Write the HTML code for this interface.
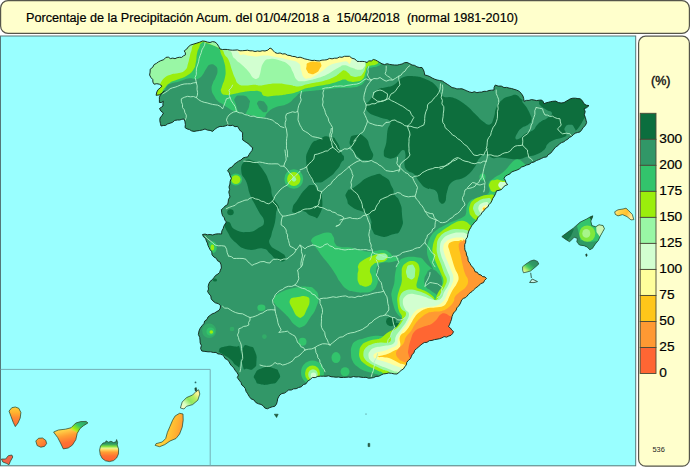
<!DOCTYPE html>
<html><head><meta charset="utf-8"><title>Porcentaje de la Precipitación Acum.</title>
<style>
html,body{margin:0;padding:0;background:#fff;}
body{width:690px;height:467px;overflow:hidden;position:relative;font-family:"Liberation Sans",sans-serif;color:#111;}
svg{position:absolute;left:0;top:0;display:block;}
#title{position:absolute;left:26px;top:10.5px;font-size:12.65px;line-height:14px;white-space:pre;letter-spacing:0px;color:#000;-webkit-text-stroke:0.2px #000;}
.lb{position:absolute;left:659.3px;font-size:13.7px;line-height:14px;color:#000;-webkit-text-stroke:0.2px #000;}
#pct{position:absolute;left:651px;top:74px;font-size:12.5px;line-height:14px;-webkit-text-stroke:0.4px #111;}
#n536{position:absolute;left:652.5px;top:445px;font-size:7.4px;line-height:9px;color:#222;}
</style></head><body>
<svg width="690" height="467" viewBox="0 0 690 467">
<defs>
<filter id="soft" x="-2%" y="-2%" width="104%" height="104%"><feGaussianBlur stdDeviation="0.45"/></filter>
<clipPath id="cpS"><path id="spain" d="M161.0,126.0 L160.4,123.4 L159.8,120.7 L160.0,118.0 L161.9,115.6 L163.5,113.0 L161.0,111.2 L159.5,108.5 L161.3,107.3 L163.0,106.0 L162.9,103.6 L163.3,101.2 L161.6,102.5 L159.4,102.5 L159.4,99.8 L159.4,97.2 L160.6,94.6 L162.8,92.8 L164.6,90.7 L162.0,93.3 L159.3,94.9 L156.1,95.3 L156.8,92.0 L158.1,89.6 L160.2,88.0 L162.0,86.1 L159.4,84.2 L156.8,83.7 L154.1,84.2 L152.9,82.1 L152.8,79.6 L150.9,77.5 L149.6,75.0 L150.1,72.1 L150.2,69.2 L152.7,67.3 L154.1,64.6 L156.4,63.4 L158.4,61.9 L160.7,60.7 L163.7,59.7 L165.9,57.4 L168.3,57.1 L170.4,58.6 L172.8,58.1 L175.0,58.7 L177.1,57.7 L179.3,57.3 L181.6,57.4 L183.4,55.9 L185.5,54.8 L185.3,52.7 L184.2,50.9 L186.8,49.0 L188.4,46.7 L190.7,45.0 L194.0,44.0 L196.9,43.1 L199.7,42.2 L202.5,41.0 L205.0,41.3 L207.5,42.1 L210.0,42.5 L212.4,41.6 L215.0,42.0 L217.2,43.9 L218.7,46.4 L220.0,49.0 L222.5,49.5 L225.0,49.4 L227.5,49.5 L230.0,50.0 L232.5,50.2 L235.0,50.1 L237.5,49.9 L240.0,50.8 L242.5,50.7 L245.0,50.5 L247.5,50.2 L250.0,50.8 L252.5,50.8 L255.0,51.5 L257.5,51.0 L260.0,51.3 L262.5,50.7 L265.0,51.0 L267.9,50.1 L270.0,48.0 L272.0,49.1 L273.4,50.9 L275.0,52.5 L277.4,53.4 L280.1,53.0 L282.5,54.0 L285.1,53.8 L287.5,55.2 L290.0,55.5 L292.4,56.4 L295.0,56.6 L297.4,57.6 L300.1,57.2 L302.5,58.0 L304.8,58.9 L307.2,59.4 L309.6,60.0 L312.0,60.5 L314.5,60.3 L317.0,60.8 L319.5,60.9 L322.0,60.1 L324.5,60.0 L327.0,59.7 L329.4,58.4 L332.1,58.8 L334.5,58.2 L337.1,58.2 L339.5,57.0 L342.0,57.3 L344.5,56.3 L347.0,56.3 L349.5,56.3 L351.9,58.2 L354.9,59.0 L357.0,61.3 L359.5,61.5 L362.1,61.4 L364.6,61.6 L367.0,62.5 L368.8,60.9 L371.4,60.9 L373.3,59.5 L375.7,60.1 L377.8,61.3 L379.9,62.6 L382.0,63.8 L384.5,64.6 L387.1,63.7 L389.6,64.4 L392.1,64.8 L394.6,65.0 L397.2,65.1 L399.7,64.5 L402.1,64.0 L404.5,62.7 L407.0,62.5 L409.6,63.6 L412.0,65.0 L414.6,65.4 L416.9,66.8 L419.3,67.5 L422.0,67.5 L423.4,69.8 L424.3,72.3 L424.7,75.0 L427.3,75.6 L429.8,76.6 L432.1,78.0 L434.5,79.1 L437.0,80.0 L439.7,80.5 L442.4,81.0 L444.7,82.6 L447.2,84.2 L449.7,85.8 L452.0,87.6 L454.5,88.0 L456.9,88.9 L459.5,88.8 L462.0,88.8 L464.5,89.8 L466.9,90.9 L469.4,91.9 L472.0,92.6 L474.3,91.7 L476.9,92.7 L479.2,92.2 L481.7,92.1 L484.0,91.3 L486.6,91.4 L489.0,90.5 L491.5,90.2 L494.0,90.0 L494.1,87.4 L495.3,85.0 L498.1,86.1 L501.3,86.1 L504.0,87.6 L506.6,87.4 L509.1,88.1 L511.6,88.5 L514.0,89.3 L516.5,90.0 L519.4,91.4 L521.5,93.8 L523.0,96.1 L523.7,98.6 L524.0,101.3 L526.4,100.4 L529.0,100.4 L531.4,99.6 L534.0,100.0 L536.5,100.6 L539.1,100.2 L541.6,100.0 L543.2,101.6 L544.0,103.8 L546.1,102.8 L548.3,102.3 L550.5,101.7 L552.8,101.3 L555.7,101.1 L558.3,102.5 L561.1,103.0 L564.0,102.6 L566.1,101.3 L568.3,100.0 L570.4,98.8 L572.9,98.2 L575.4,98.2 L577.9,98.6 L580.4,98.8 L582.5,101.1 L584.0,103.8 L586.3,105.2 L589.0,105.6 L586.8,107.6 L584.0,108.8 L585.2,111.6 L584.3,114.8 L585.4,117.6 L586.0,120.1 L586.6,122.6 L585.4,125.4 L583.2,127.5 L581.6,130.0 L580.0,131.9 L577.6,132.5 L575.2,133.2 L573.3,134.7 L571.6,136.4 L569.4,137.4 L567.8,139.2 L565.7,140.3 L563.9,141.8 L561.6,142.6 L559.4,143.9 L557.8,145.8 L555.6,147.1 L554.0,149.0 L552.3,151.2 L550.6,153.3 L548.1,154.7 L546.6,157.0 L543.8,157.3 L541.4,158.5 L538.9,159.6 L536.3,160.6 L534.0,162.0 L531.4,162.7 L529.2,164.4 L526.6,165.0 L524.2,166.2 L521.6,167.0 L519.4,168.9 L516.9,170.1 L514.2,171.0 L511.5,172.0 L509.9,173.9 L507.6,174.9 L505.4,176.2 L504.0,178.3 L505.3,180.3 L506.0,182.8 L507.8,184.5 L505.2,185.6 L503.2,187.3 L501.5,189.5 L499.1,190.3 L496.5,190.8 L495.6,193.5 L494.4,196.0 L492.8,198.3 L491.9,200.7 L490.7,202.9 L488.9,204.7 L487.8,207.0 L485.5,208.5 L484.0,210.8 L482.1,212.3 L480.9,214.6 L479.2,216.3 L477.5,218.0 L476.7,220.5 L474.7,222.0 L473.3,223.9 L471.7,225.7 L470.6,227.8 L469.4,229.8 L468.5,232.0 L467.8,234.5 L467.4,237.2 L465.8,239.4 L465.7,242.2 L464.7,244.6 L464.7,247.3 L464.9,249.9 L466.2,252.4 L466.5,255.0 L467.8,257.7 L468.2,260.9 L470.0,263.4 L471.0,265.6 L472.9,267.3 L474.2,269.3 L475.0,271.7 L477.3,272.3 L478.7,274.4 L481.0,275.0 L482.6,276.6 L485.0,276.9 L486.5,278.5 L484.6,280.3 L483.5,282.6 L480.6,283.7 L478.5,286.0 L475.9,287.8 L473.5,290.0 L472.0,291.6 L470.1,292.8 L468.5,294.3 L467.1,296.1 L465.6,297.6 L463.4,298.4 L461.7,299.9 L460.9,302.0 L460.0,304.0 L458.6,306.1 L456.8,307.9 L456.1,310.4 L454.2,312.1 L452.9,314.2 L452.0,316.6 L451.5,319.2 L450.6,321.7 L449.7,324.2 L448.5,326.6 L450.4,328.0 L451.7,330.0 L453.5,331.6 L452.5,333.7 L451.0,335.3 L448.8,336.0 L446.6,337.1 L444.1,336.6 L442.0,337.8 L439.6,338.7 L437.0,339.2 L434.5,339.6 L432.0,340.4 L429.3,340.7 L427.0,342.3 L424.3,342.5 L422.0,344.0 L420.1,345.6 L418.3,347.2 L416.4,348.8 L414.6,350.4 L414.0,352.8 L412.2,354.4 L411.3,356.7 L410.3,358.8 L408.4,360.4 L406.8,362.3 L406.3,364.9 L404.7,366.9 L403.4,369.0 L401.1,370.4 L399.1,372.3 L397.0,374.0 L394.2,373.9 L391.5,373.3 L388.7,373.0 L386.1,373.6 L383.5,373.9 L381.0,375.0 L378.7,376.3 L376.0,376.4 L373.6,377.6 L371.0,378.0 L368.5,378.2 L366.0,377.3 L363.5,377.5 L361.0,377.2 L358.5,376.8 L356.0,377.0 L353.5,376.5 L351.0,377.3 L348.5,377.1 L346.0,377.3 L343.5,377.4 L341.0,377.5 L338.5,377.0 L336.0,377.2 L333.5,376.9 L331.0,376.7 L328.6,375.8 L326.0,376.3 L323.3,376.2 L320.5,376.2 L317.8,376.4 L315.2,377.6 L312.4,377.5 L310.2,379.5 L307.7,381.2 L306.0,383.8 L303.3,384.6 L301.3,386.8 L298.6,387.5 L296.2,388.7 L293.6,388.8 L291.3,390.0 L288.6,390.0 L286.6,391.6 L284.5,393.1 L281.9,393.5 L279.8,395.0 L278.6,396.9 L277.6,399.0 L277.3,401.3 L276.5,404.0 L274.8,406.3 L272.2,406.8 L269.7,407.7 L267.3,408.8 L264.8,408.0 L263.2,405.8 L261.0,404.4 L258.5,403.8 L255.8,402.5 L253.9,399.9 L251.0,398.8 L249.2,396.4 L247.7,393.8 L246.0,391.3 L245.4,388.7 L243.9,386.7 L241.8,385.0 L241.0,382.5 L239.1,380.1 L237.3,377.5 L238.5,375.0 L236.9,372.5 L235.0,370.1 L233.5,367.5 L231.5,365.8 L230.0,363.7 L228.9,361.3 L227.0,359.5 L225.0,358.5 L224.0,356.4 L222.4,354.9 L220.2,354.1 L217.9,353.9 L216.0,352.4 L213.3,352.5 L210.7,351.8 L208.0,351.8 L204.9,351.4 L201.8,351.0 L200.6,348.5 L201.4,345.5 L200.2,343.0 L200.0,340.1 L199.7,337.3 L198.4,334.6 L199.0,331.0 L200.2,328.2 L202.0,325.8 L204.0,323.5 L204.7,321.0 L207.0,319.4 L208.0,317.0 L210.0,315.4 L212.1,313.9 L214.6,313.0 L216.7,311.6 L219.0,310.4 L220.3,308.1 L220.5,305.5 L218.2,303.6 L215.3,302.8 L213.0,301.0 L211.2,298.9 L210.8,295.9 L209.0,293.8 L207.6,291.5 L208.5,289.1 L208.2,286.4 L208.8,283.8 L210.0,281.5 L212.2,279.8 L213.9,277.7 L215.6,275.4 L218.0,274.0 L219.7,272.3 L220.4,270.1 L221.4,268.0 L221.1,264.9 L220.0,262.0 L217.6,260.8 L216.3,258.3 L213.9,257.0 L212.0,254.8 L211.8,251.8 L210.0,249.6 L209.0,247.5 L208.0,245.4 L207.4,243.1 L206.4,241.0 L205.6,238.5 L203.5,236.8 L202.5,234.5 L205.1,234.1 L207.5,234.8 L210.1,234.5 L212.6,235.0 L215.5,234.1 L218.5,233.8 L221.6,234.0 L221.8,231.1 L223.2,228.5 L223.9,226.1 L225.1,224.0 L226.4,222.0 L224.9,220.1 L224.2,217.7 L222.6,215.8 L221.7,212.8 L221.4,209.6 L223.5,207.9 L225.2,205.9 L227.6,204.6 L228.2,202.0 L228.5,199.3 L230.0,197.0 L229.4,194.5 L228.8,192.1 L229.6,189.5 L229.0,187.0 L229.9,184.1 L230.2,181.1 L231.4,178.3 L230.1,175.8 L229.4,173.0 L227.6,170.8 L229.3,168.3 L232.2,166.9 L234.0,164.5 L236.2,162.8 L238.5,161.2 L241.0,160.0 L243.0,158.0 L245.3,157.3 L247.7,157.0 L249.0,154.7 L250.4,152.5 L252.1,150.4 L252.7,147.7 L250.6,146.3 L249.0,144.2 L246.9,142.8 L244.8,141.4 L242.7,140.0 L242.6,137.5 L242.5,135.1 L242.7,132.6 L240.5,131.0 L238.9,128.8 L237.6,126.4 L235.0,126.7 L232.7,125.3 L230.0,125.7 L227.6,125.0 L225.2,126.0 L222.6,126.5 L220.0,126.4 L217.2,127.6 L214.8,129.3 L212.6,131.4 L210.1,130.4 L207.4,130.1 L205.0,129.0 L202.3,130.0 L199.6,130.5 L196.8,130.9 L194.0,131.4 L191.6,130.9 L189.5,129.6 L187.1,128.9 L185.0,127.6 L185.4,124.7 L185.0,121.8 L184.0,119.0 L181.8,119.3 L179.7,120.0 L177.5,120.0 L174.7,120.4 L172.6,122.3 L170.1,123.2 L167.5,124.0 L165.6,125.4 L163.2,125.5 Z"/></clipPath>
</defs>
<!-- header -->
<rect x="0.6" y="0.6" width="688.8" height="32.8" rx="7.5" ry="7.5" fill="#ffffcc" stroke="#55554a" stroke-width="1.2"/>
<!-- map frame -->
<rect x="0.5" y="36" width="635.2" height="429.8" fill="#99ffff" stroke="#557878" stroke-width="1"/>
<!-- legend panel -->
<rect x="638.6" y="36.2" width="50.8" height="430" rx="7" ry="7" fill="#ffffcc" stroke="#55554a" stroke-width="1.2"/>
<!-- canary inset box -->
<path d="M0.5,369.4 H210.2 V466" fill="none" stroke="#6fa6ae" stroke-width="0.9"/>
<!-- SPAIN -->
<g id="mainland" clip-path="url(#cpS)"><g filter="url(#soft)">
<rect x="140" y="35" width="460" height="390" fill="#319767"/>
<path d="M402.6,77.5 C407.5,75.5 409.2,75.7 415.0,76.3 C420.8,76.9 422.6,77.7 427.6,80.0 C432.6,82.3 432.9,82.5 436.4,86.3 C439.9,90.1 438.9,93.7 442.7,96.3 C446.5,98.9 447.5,95.7 452.7,97.6 C457.9,99.5 459.8,100.7 465.0,104.5 C470.2,108.3 470.8,109.8 475.0,113.8 C479.2,117.8 479.5,119.0 483.0,121.5 C486.5,124.0 487.4,125.5 490.0,124.5 C492.6,123.5 492.5,121.0 494.0,117.0 C495.5,113.0 494.4,111.6 496.4,107.5 C498.4,103.4 499.4,102.1 502.6,99.5 C505.8,96.9 506.8,97.3 510.0,96.3 C513.2,95.2 513.8,94.4 516.4,95.0 C519.0,95.6 518.8,97.4 521.0,99.0 C523.2,100.6 523.4,101.8 526.0,102.0 C528.6,102.2 528.7,101.2 532.0,100.0 C535.3,98.8 533.5,98.4 540.0,97.0 C546.5,95.6 550.7,95.2 560.0,94.0 C569.3,92.8 571.8,90.6 580.0,92.0 C588.2,93.4 592.2,95.3 595.0,100.0 C597.8,104.7 594.1,108.0 592.0,112.0 C589.9,116.0 587.9,115.4 586.0,117.0 C584.1,118.6 585.9,116.0 584.0,118.8 C582.1,121.6 581.0,125.3 577.7,128.8 C574.4,132.3 573.5,131.7 570.0,133.8 C566.5,135.9 566.4,136.2 562.7,137.6 C559.0,139.0 557.5,138.5 554.0,140.0 C550.5,141.5 550.1,141.6 547.7,143.9 C545.3,146.2 546.9,147.4 543.9,150.0 C540.9,152.6 538.8,153.5 535.0,155.0 C531.2,156.5 531.1,155.5 527.6,156.4 C524.1,157.3 523.8,158.3 520.0,158.9 C516.2,159.5 516.1,159.2 511.4,158.9 C506.7,158.6 504.4,157.8 500.0,157.6 C495.6,157.4 495.9,158.8 492.6,158.0 C489.3,157.2 489.2,153.8 486.0,154.0 C482.8,154.2 481.6,155.7 479.0,158.7 C476.4,161.7 478.0,162.7 474.7,167.0 C471.4,171.3 470.3,173.5 465.0,177.0 C459.7,180.5 456.2,178.5 452.0,182.0 C447.8,185.5 448.6,187.3 447.0,192.0 C445.4,196.7 446.7,199.7 445.0,202.0 C443.3,204.3 441.8,204.6 439.7,202.0 C437.6,199.4 439.2,194.3 436.0,191.0 C432.8,187.7 429.8,190.1 426.0,188.0 C422.2,185.9 422.4,185.3 419.6,182.0 C416.8,178.7 416.7,176.6 414.0,174.0 C411.3,171.4 410.2,173.1 408.0,171.0 C405.8,168.9 405.1,168.7 404.5,165.0 C403.9,161.3 405.9,158.5 405.5,155.0 C405.1,151.5 405.1,149.4 402.6,150.0 C400.2,150.6 398.8,155.8 395.0,157.6 C391.2,159.4 388.9,158.8 386.3,157.6 C383.7,156.4 383.8,156.1 383.8,152.6 C383.8,149.1 385.4,147.9 386.3,142.6 C387.2,137.3 386.7,135.0 387.6,130.0 C388.5,125.0 391.8,124.2 390.0,121.3 C388.2,118.4 384.9,119.6 380.0,117.6 C375.1,115.6 372.0,115.5 368.8,112.6 C365.6,109.7 366.0,107.9 366.3,105.0 C366.6,102.1 367.4,103.5 370.0,100.0 C372.6,96.5 374.1,92.9 377.6,90.0 C381.1,87.1 381.2,88.7 385.0,87.5 C388.8,86.3 389.7,87.3 393.8,85.0 C397.9,82.7 397.7,79.5 402.6,77.5 Z" fill="#0b6e3e"/>
<path d="M523.0,100.0 C525.7,98.0 532.5,99.2 537.0,100.5 C541.5,101.8 537.6,102.6 540.0,105.0 C542.4,107.4 542.8,107.3 546.0,109.5 C549.2,111.7 551.8,110.9 552.0,113.3 C552.2,115.7 549.4,116.4 546.7,118.5 C544.0,120.6 544.4,119.1 541.7,121.0 C539.0,122.9 538.9,123.1 536.7,125.5 C534.5,127.9 536.2,127.9 533.3,130.0 C530.4,132.1 529.5,131.2 525.8,133.5 C522.1,135.8 522.2,137.2 519.5,138.5 C516.8,139.8 516.0,140.0 515.5,138.5 C515.0,137.0 515.8,135.8 517.5,133.0 C519.2,130.2 518.8,130.3 521.7,128.0 C524.6,125.7 525.7,126.6 528.3,124.5 C530.9,122.4 531.0,122.8 531.5,120.0 C532.0,117.2 531.2,117.2 530.0,114.0 C528.8,110.8 528.9,111.7 527.0,108.0 C525.1,104.3 520.3,102.0 523.0,100.0 Z" fill="#319767"/>
<path d="M565.0,127.5 C566.4,124.9 566.9,124.7 570.0,124.7 C573.1,124.7 572.7,124.6 574.2,127.5 C575.7,130.4 576.5,130.3 574.5,133.3 C572.5,136.3 571.2,136.8 568.3,136.5 C565.4,136.2 566.9,135.5 565.8,132.5 C564.7,129.5 563.6,130.1 565.0,127.5 Z" fill="#319767"/>
<path d="M350.0,140.0 C351.2,135.3 351.3,135.8 356.3,135.0 C361.3,134.2 360.4,133.4 365.0,137.6 C369.6,141.8 367.5,140.9 370.0,147.6 C372.5,154.3 374.3,153.5 372.6,157.6 C370.9,161.7 370.0,160.4 365.0,160.0 C360.0,159.6 361.7,160.1 357.6,156.4 C353.5,152.7 355.1,154.5 352.6,149.0 C350.1,143.5 348.8,144.7 350.0,140.0 Z" fill="#0b6e3e"/>
<path d="M309.6,147.8 C314.0,139.1 312.7,142.6 319.6,139.0 C326.5,135.4 324.6,136.0 330.4,137.0 C336.2,138.0 333.5,137.0 337.0,142.0 C340.5,147.0 338.7,146.7 341.0,152.0 C343.3,157.3 344.0,154.3 344.0,158.0 C344.0,161.7 343.3,159.1 341.0,163.0 C338.7,166.9 341.3,164.6 337.0,169.6 C332.7,174.6 334.5,173.7 328.0,178.0 C321.5,182.3 323.1,182.6 317.4,182.6 C311.7,182.6 314.6,183.9 311.0,178.0 C307.4,172.1 307.0,175.1 306.5,165.0 C306.0,154.9 305.2,156.5 309.6,147.8 Z" fill="#0b6e3e"/>
<path d="M312.0,185.0 C308.0,185.2 309.8,184.6 305.0,189.5 C300.2,194.4 301.8,193.4 297.7,199.6 C293.6,205.8 293.6,203.5 292.7,208.0 C291.8,212.5 291.7,212.0 295.0,213.0 C298.3,214.0 297.0,210.0 302.7,211.0 C308.4,212.0 306.4,214.8 312.0,216.0 C317.6,217.2 316.2,220.9 319.5,214.6 C322.8,208.3 322.8,205.5 322.0,197.0 C321.2,188.5 320.3,193.0 317.0,189.0 C313.7,185.0 316.0,184.8 312.0,185.0 Z" fill="#0b6e3e"/>
<path d="M347.0,192.0 C349.5,187.8 346.3,192.4 354.6,187.0 C362.9,181.6 362.0,179.1 372.0,175.8 C382.0,172.5 377.9,173.3 384.6,177.0 C391.3,180.7 388.7,181.1 392.0,187.0 C395.3,192.9 392.1,189.6 394.6,194.6 C397.1,199.6 397.1,195.3 399.6,202.0 C402.1,208.7 401.5,205.8 402.0,214.6 C402.5,223.4 404.3,221.7 401.0,228.4 C397.7,235.1 399.1,232.1 392.0,234.6 C384.9,237.1 386.3,237.6 379.6,235.9 C372.9,234.2 374.9,235.0 372.0,229.6 C369.1,224.2 372.9,225.0 370.8,219.6 C368.7,214.2 372.1,217.5 365.8,213.3 C359.5,209.1 358.3,211.6 352.0,207.0 C345.7,202.4 348.7,204.6 347.0,199.6 C345.3,194.6 344.5,196.2 347.0,192.0 Z" fill="#0b6e3e"/>
<path d="M244.0,162.0 C247.0,159.0 247.7,158.8 252.7,160.8 C257.7,162.8 258.1,163.2 262.7,169.5 C267.3,175.8 267.3,177.2 270.0,184.5 C272.7,191.8 270.3,191.0 272.7,197.0 C275.1,203.0 278.0,203.3 279.0,207.0 C280.0,210.7 277.6,206.8 276.5,210.8 C275.4,214.8 276.3,215.7 275.0,222.0 C273.7,228.3 272.8,228.6 271.5,234.6 C270.2,240.6 267.7,240.0 270.0,244.6 C272.3,249.2 276.0,249.0 280.0,252.0 C284.0,255.0 283.9,253.6 285.0,256.0 C286.1,258.4 286.3,260.0 284.0,261.0 C281.7,262.0 280.2,261.6 276.5,259.6 C272.8,257.6 273.7,256.4 270.0,253.4 C266.3,250.4 268.6,249.4 262.7,248.4 C256.8,247.4 255.1,251.3 247.7,249.6 C240.3,247.9 240.4,246.7 235.0,242.0 C229.6,237.3 230.3,236.6 227.6,232.0 C224.9,227.4 224.6,227.3 225.0,224.6 C225.4,221.9 226.3,220.7 229.0,222.0 C231.7,223.3 230.0,226.9 235.0,229.6 C240.0,232.3 241.6,232.3 247.7,232.0 C253.8,231.7 253.4,231.1 257.7,228.4 C262.0,225.7 263.7,226.4 264.0,222.0 C264.3,217.6 261.4,216.6 259.0,212.0 C256.6,207.4 257.4,209.2 255.0,204.6 C252.6,200.0 252.3,200.6 250.0,194.6 C247.7,188.6 248.7,188.0 246.4,182.0 C244.1,176.0 242.0,177.3 241.4,172.0 C240.8,166.7 241.0,165.0 244.0,162.0 Z" fill="#0b6e3e"/>
<path d="M219.0,350.4 C219.8,347.9 219.7,347.9 225.0,346.6 C230.3,345.3 230.0,345.8 235.0,346.6 C240.0,347.4 238.3,343.2 240.0,349.0 C241.7,354.8 241.2,358.5 240.0,364.0 C238.8,369.5 239.7,367.1 236.4,365.4 C233.1,363.7 234.6,362.8 230.0,359.0 C225.4,355.2 226.3,356.9 222.6,354.0 C218.9,351.1 218.2,352.9 219.0,350.4 Z" fill="#0b6e3e"/>
<path d="M242.7,349.0 C245.1,342.7 245.9,345.7 250.0,346.6 C254.1,347.5 252.9,346.6 255.0,351.6 C257.1,356.6 256.7,356.1 256.4,361.6 C256.1,367.1 256.9,365.5 254.0,368.0 C251.1,370.5 251.5,369.9 247.7,369.0 C243.9,368.1 244.4,372.1 242.7,365.4 C241.0,358.7 240.3,355.3 242.7,349.0 Z" fill="#0b6e3e"/>
<path d="M255.0,374.0 C257.3,369.9 256.8,370.0 262.7,368.0 C268.6,366.0 267.3,366.3 272.7,368.0 C278.1,369.7 277.3,368.9 279.0,373.0 C280.7,377.1 280.7,376.7 277.7,380.4 C274.7,384.1 275.9,382.8 270.0,384.0 C264.1,385.2 264.8,385.2 260.0,384.0 C255.2,382.8 257.4,383.7 255.7,380.4 C254.0,377.1 252.7,378.1 255.0,374.0 Z" fill="#0b6e3e"/>
<ellipse cx="215.0" cy="280.0" rx="2.0" ry="1.6" fill="#0b6e3e"/>
<ellipse cx="391.0" cy="321.6" rx="5.0" ry="4.6" fill="#0b6e3e"/>
<ellipse cx="397.0" cy="325.0" rx="2.5" ry="2.2" fill="#0b6e3e"/>
<ellipse cx="230.5" cy="212.3" rx="3.2" ry="3.0" fill="#0b6e3e"/>
<path d="M140.0,98.0 C145.3,114.0 152.9,99.1 160.0,96.0 C167.1,92.9 163.6,89.8 166.6,86.5 C169.6,83.2 167.8,84.8 171.1,83.5 C174.4,82.2 174.5,82.8 179.0,81.5 C183.5,80.2 183.9,79.2 188.1,78.5 C192.3,77.8 191.8,79.0 194.6,79.0 C197.4,79.0 196.5,79.6 198.6,78.5 C200.7,77.4 200.4,77.7 202.5,75.0 C204.6,72.3 204.3,71.3 206.4,68.5 C208.5,65.7 207.9,65.3 210.3,64.6 C212.7,63.9 213.6,64.2 215.5,65.9 C217.4,67.6 217.5,68.0 217.5,71.1 C217.5,74.2 216.7,74.6 215.5,77.7 C214.3,80.8 213.9,79.8 212.9,82.9 C211.9,86.0 211.3,85.9 211.6,89.4 C211.9,92.9 212.5,92.8 214.2,95.9 C215.9,99.0 215.9,99.0 218.1,101.2 C220.3,103.4 220.0,102.3 222.5,104.0 C225.0,105.7 224.3,105.6 227.6,107.6 C230.9,109.6 229.0,109.4 235.0,111.4 C241.0,113.4 242.6,113.3 250.0,115.0 C257.4,116.7 257.9,118.2 262.6,117.6 C267.3,117.0 264.3,115.3 267.6,112.6 C270.9,109.9 269.7,109.9 275.0,107.6 C280.3,105.3 282.3,106.5 287.6,103.8 C292.9,101.1 291.3,100.6 295.0,97.6 C298.7,94.6 296.6,94.3 301.4,92.5 C306.2,90.7 306.4,91.5 313.0,90.7 C319.6,89.9 319.0,90.1 326.0,89.4 C333.0,88.7 332.2,88.5 339.2,88.0 C346.2,87.5 347.0,87.9 352.2,87.4 C357.4,86.9 355.7,87.4 358.8,86.0 C361.9,84.6 361.9,84.9 364.0,82.2 C366.1,79.5 365.5,79.2 366.6,75.7 C367.7,72.2 366.6,71.2 368.0,69.0 C369.4,66.8 369.3,68.3 372.0,67.5 C374.7,66.7 375.5,67.2 378.0,66.0 C380.5,64.8 380.7,65.7 381.5,63.0 C382.3,60.3 381.1,63.2 381.0,56.0 C380.9,48.8 445.3,41.3 381.0,36.0 C316.7,30.7 204.3,19.5 140.0,36.0 C75.7,52.5 134.7,82.0 140.0,98.0 Z" fill="#33c46c"/>
<path d="M235.0,98.0 C236.9,94.9 237.3,95.3 241.8,95.6 C246.3,95.9 246.0,95.9 248.5,99.0 C251.0,102.1 249.9,100.7 249.3,104.8 C248.7,108.9 248.7,108.0 246.8,111.4 C244.9,114.8 246.3,115.0 243.5,115.0 C240.7,115.0 241.0,114.8 238.5,111.4 C236.0,108.0 237.2,109.3 236.0,104.8 C234.8,100.3 233.1,101.1 235.0,98.0 Z" fill="#319767"/>
<path d="M257.5,102.3 C258.6,100.5 258.9,100.4 261.7,101.0 C264.5,101.6 263.9,101.3 265.8,104.0 C267.7,106.7 267.8,106.2 267.5,109.0 C267.2,111.8 267.2,112.0 265.0,112.3 C262.8,112.6 263.0,111.8 260.8,109.8 C258.6,107.8 259.4,108.9 258.3,106.4 C257.2,103.9 256.4,104.1 257.5,102.3 Z" fill="#319767"/>
<path d="M201.0,36.0 C217.5,38.4 200.9,40.5 199.9,45.0 C198.9,49.5 198.3,48.3 197.2,52.8 C196.1,57.3 196.9,57.5 195.9,62.0 C194.9,66.5 195.7,66.1 193.3,69.8 C190.9,73.5 191.0,73.1 186.8,75.7 C182.6,78.3 182.2,77.7 177.7,79.6 C173.2,81.5 173.3,80.6 169.8,82.9 C166.3,85.2 167.4,84.9 164.6,88.1 C161.8,91.3 163.3,92.1 159.4,95.0 C155.5,97.9 155.7,100.3 150.0,99.0 C144.3,97.7 141.2,106.8 138.0,90.0 C134.8,73.2 121.2,50.4 138.0,36.0 C154.8,21.6 184.5,33.6 201.0,36.0 Z" fill="#9bee0c"/>
<path d="M219.0,36.0 C176.9,39.7 218.8,43.4 220.0,49.7 C221.2,56.0 222.0,54.4 223.5,59.7 C225.0,65.0 225.2,64.8 225.5,69.7 C225.8,74.6 225.7,73.5 224.8,78.0 C223.9,82.5 223.0,82.8 222.0,86.4 C221.0,90.0 220.2,89.2 221.0,91.4 C221.8,93.6 221.7,94.1 225.0,94.8 C228.3,95.5 229.0,94.7 233.5,94.0 C238.0,93.3 236.9,93.1 241.8,92.3 C246.7,91.5 246.9,91.2 251.8,91.0 C256.7,90.8 256.5,90.1 260.0,91.4 C263.5,92.7 260.5,94.9 265.0,96.0 C269.5,97.1 270.5,96.1 276.7,95.6 C282.9,95.1 282.6,95.1 288.4,94.0 C294.2,92.9 294.0,92.8 298.4,91.4 C302.8,90.0 301.8,89.7 305.0,88.6 C308.2,87.5 306.1,88.2 310.4,87.4 C314.7,86.6 315.4,86.5 321.0,85.5 C326.6,84.5 326.4,84.7 331.3,83.5 C336.2,82.3 335.7,82.0 339.2,81.0 C342.7,80.0 341.6,79.4 344.4,79.6 C347.2,79.8 346.5,81.1 349.6,81.6 C352.7,82.1 352.7,82.3 356.2,81.6 C359.7,80.9 360.3,81.3 362.7,79.0 C365.1,76.7 364.1,76.2 365.3,73.0 C366.5,69.8 365.8,69.0 367.3,67.0 C368.8,65.0 368.7,66.2 371.0,65.5 C373.3,64.8 374.0,65.6 376.0,64.5 C378.0,63.4 378.0,63.8 378.5,61.5 C379.0,59.2 378.1,62.8 378.0,56.0 C377.9,49.2 420.4,41.3 378.0,36.0 C335.6,30.7 261.1,32.3 219.0,36.0 Z" fill="#9bee0c"/>
<path d="M192.5,36.0 C206.9,39.1 192.7,42.4 192.0,47.6 C191.3,52.8 191.0,51.2 190.0,55.4 C189.0,59.6 189.3,59.5 188.1,63.3 C186.9,67.1 187.9,67.2 185.5,69.8 C183.1,72.4 182.8,71.9 179.0,73.1 C175.2,74.3 174.9,73.2 171.1,74.4 C167.3,75.6 167.4,75.4 164.6,77.7 C161.8,80.0 162.4,80.1 160.7,82.9 C159.0,85.7 159.6,84.6 158.1,88.1 C156.6,91.6 157.7,93.4 155.0,96.0 C152.3,98.6 152.5,99.6 148.0,98.0 C143.5,96.4 140.7,106.5 138.0,90.0 C135.3,73.5 123.5,50.4 138.0,36.0 C152.5,21.6 178.1,32.9 192.5,36.0 Z" fill="#99f7a5"/>
<path d="M222.0,36.0 C184.0,40.1 221.8,45.1 223.5,51.4 C225.2,57.7 226.3,54.8 228.5,59.7 C230.7,64.6 230.1,64.8 231.8,69.7 C233.5,74.6 233.2,74.2 235.0,78.0 C236.8,81.8 235.8,82.0 238.5,84.0 C241.2,86.0 241.0,85.4 245.0,85.6 C249.0,85.8 249.5,84.7 253.5,84.7 C257.5,84.7 256.9,85.6 260.0,85.6 C263.1,85.6 260.5,85.3 265.0,84.7 C269.5,84.1 270.5,83.4 276.7,83.4 C282.9,83.4 282.6,83.9 288.4,84.7 C294.2,85.5 293.7,86.5 298.4,86.4 C303.1,86.3 302.1,85.4 306.0,84.5 C309.9,83.6 308.3,83.9 313.0,82.9 C317.7,81.9 317.9,82.5 323.5,80.9 C329.1,79.3 329.5,79.3 334.0,77.0 C338.5,74.7 337.7,74.2 340.5,72.4 C343.3,70.6 342.3,70.2 344.4,70.4 C346.5,70.6 346.2,71.4 348.3,73.0 C350.4,74.6 349.4,75.4 352.2,76.3 C355.0,77.2 356.0,77.0 358.8,76.3 C361.6,75.6 361.0,76.0 362.7,73.7 C364.4,71.4 364.4,71.5 365.3,67.8 C366.2,64.1 365.8,68.5 366.0,60.0 C366.2,51.5 404.4,42.4 366.0,36.0 C327.6,29.6 260.0,31.9 222.0,36.0 Z" fill="#99f7a5"/>
<path d="M230.0,36.0 C194.5,40.5 230.2,46.7 231.8,53.0 C233.4,59.3 233.3,56.6 236.0,59.7 C238.7,62.8 238.5,61.6 241.8,64.7 C245.1,67.8 245.4,67.9 248.5,71.4 C251.6,74.9 251.0,76.2 253.5,78.0 C256.0,79.8 256.3,79.1 258.0,78.0 C259.7,76.9 258.6,77.9 260.0,73.9 C261.4,69.9 260.6,67.0 263.3,63.0 C266.0,59.0 265.5,59.6 270.0,58.9 C274.5,58.2 275.1,59.0 280.0,60.5 C284.9,62.0 285.0,61.8 288.4,64.7 C291.8,67.6 290.4,67.4 292.6,71.4 C294.8,75.4 294.2,77.1 296.7,79.7 C299.2,82.3 298.7,81.0 302.0,81.2 C305.3,81.4 305.0,81.1 309.0,80.3 C313.0,79.5 312.5,79.7 317.0,78.3 C321.5,76.9 321.8,76.9 326.0,75.0 C330.2,73.1 329.2,73.1 332.7,71.0 C336.2,68.9 336.1,68.7 339.2,67.2 C342.3,65.7 340.9,65.0 344.4,65.2 C347.9,65.4 348.4,66.6 352.2,67.8 C356.0,69.0 355.7,70.0 358.8,69.8 C361.9,69.6 362.3,69.8 364.0,67.2 C365.7,64.6 364.7,68.3 365.0,60.0 C365.3,51.7 401.0,42.4 365.0,36.0 C329.0,29.6 265.5,31.5 230.0,36.0 Z" fill="#d2ffd0"/>
<path d="M237.0,36.0 C206.5,40.3 236.4,47.2 238.5,52.2 C240.6,57.2 240.6,53.6 245.0,54.7 C249.4,55.8 249.7,56.2 255.0,56.4 C260.3,56.6 259.2,55.3 265.0,55.5 C270.8,55.7 270.5,56.1 276.7,57.2 C282.9,58.3 282.6,58.2 288.4,59.7 C294.2,61.2 295.0,60.3 298.4,63.0 C301.8,65.7 299.5,66.1 301.0,70.0 C302.5,73.9 301.9,75.3 304.0,77.5 C306.1,79.7 306.6,78.4 309.0,78.3 C311.4,78.2 310.2,78.4 313.0,77.0 C315.8,75.6 316.5,75.1 319.6,73.0 C322.7,70.9 322.0,71.1 324.8,69.0 C327.6,66.9 326.2,66.9 330.0,65.2 C333.8,63.5 335.0,63.6 339.2,62.6 C343.4,61.6 342.6,61.7 345.7,61.3 C348.8,60.9 349.1,67.7 351.0,61.0 C352.9,54.3 383.4,42.7 353.0,36.0 C322.6,29.3 267.5,31.7 237.0,36.0 Z" fill="#ffff9c"/>
<path d="M306.5,66.5 C307.1,63.7 305.5,64.1 309.0,62.6 C312.5,61.1 313.0,61.5 317.0,62.0 C321.0,62.5 320.1,61.7 321.0,64.0 C321.9,66.3 321.4,66.0 319.6,69.0 C317.8,72.0 318.8,71.4 315.7,73.0 C312.6,74.6 313.2,74.4 310.4,73.7 C307.6,73.0 308.5,73.4 307.2,71.0 C305.9,68.6 305.9,69.3 306.5,66.5 Z" fill="#ffc61a"/>
<path d="M311.7,239.2 C313.3,237.0 313.9,236.8 318.4,235.0 C322.9,233.2 324.4,232.0 328.4,232.5 C332.4,233.0 331.6,233.8 333.4,236.7 C335.2,239.6 333.2,240.7 335.0,243.4 C336.8,246.1 336.0,245.6 340.0,246.7 C344.0,247.8 344.7,246.6 350.0,247.5 C355.3,248.4 355.1,248.9 360.0,250.0 C364.9,251.1 364.5,251.5 368.5,251.7 C372.5,251.9 371.0,251.4 375.0,250.9 C379.0,250.4 379.7,249.6 383.5,250.0 C387.3,250.4 386.8,250.9 389.3,252.5 C391.8,254.1 390.4,254.3 393.0,256.0 C395.6,257.7 399.3,257.4 399.0,259.0 C398.7,260.6 396.1,261.0 392.0,262.0 C387.9,263.0 387.1,261.8 383.5,262.6 C379.9,263.4 380.5,262.8 378.5,265.0 C376.5,267.2 376.2,267.3 376.0,270.9 C375.8,274.5 377.4,274.6 377.6,278.4 C377.8,282.2 378.3,281.6 376.8,285.0 C375.3,288.4 375.4,289.0 371.8,291.0 C368.2,293.0 367.9,292.4 363.4,292.6 C358.9,292.8 359.4,292.7 355.0,291.8 C350.6,290.9 350.8,292.0 346.8,289.3 C342.8,286.6 343.1,286.0 340.0,281.8 C336.9,277.6 337.9,277.9 335.0,273.4 C332.1,268.9 332.5,269.5 329.2,265.0 C325.9,260.5 325.8,261.1 322.5,256.7 C319.2,252.3 319.4,251.9 316.7,248.4 C314.0,244.9 313.8,245.9 312.5,243.4 C311.2,240.9 310.1,241.4 311.7,239.2 Z" fill="#33c46c"/>
<path d="M358.4,265.0 C359.7,262.3 359.8,262.4 363.4,260.0 C367.0,257.6 367.4,257.7 371.8,255.9 C376.2,254.1 376.2,253.9 380.0,253.4 C383.8,252.9 384.0,253.1 386.0,254.2 C388.0,255.3 387.9,255.7 387.6,257.5 C387.3,259.3 387.4,259.5 385.0,260.9 C382.6,262.3 381.6,261.7 378.5,262.6 C375.4,263.5 375.8,262.2 373.5,264.2 C371.2,266.2 370.5,266.7 370.0,270.0 C369.5,273.3 371.3,273.3 371.8,276.7 C372.3,280.1 372.7,280.1 371.8,282.6 C370.9,285.1 371.0,285.1 368.5,286.0 C366.0,286.9 365.3,286.9 362.6,286.0 C359.9,285.1 359.7,285.5 358.4,282.6 C357.1,279.7 357.6,278.4 357.6,275.0 C357.6,271.6 358.2,272.7 358.4,270.0 C358.6,267.3 357.1,267.7 358.4,265.0 Z" fill="#9bee0c"/>
<path d="M376.8,255.9 C378.5,254.1 378.5,254.0 381.8,253.7 C385.1,253.4 385.4,253.4 386.8,255.0 C388.2,256.6 387.9,256.7 386.0,258.4 C384.1,260.1 384.1,259.7 381.0,260.0 C377.9,260.3 378.2,260.6 376.8,259.2 C375.4,257.8 375.1,257.7 376.8,255.9 Z" fill="#99f7a5"/>
<path d="M274.0,299.0 C275.3,296.0 274.4,295.8 280.0,292.8 C285.6,289.8 287.5,289.4 295.0,287.8 C302.5,286.2 302.7,286.2 308.0,286.8 C313.3,287.4 312.2,287.3 315.0,290.0 C317.8,292.7 318.1,292.2 318.4,297.0 C318.7,301.8 318.2,302.4 316.0,308.0 C313.8,313.6 313.5,313.0 310.0,318.0 C306.5,323.0 306.7,324.7 302.7,326.6 C298.7,328.5 299.0,327.7 295.0,325.0 C291.0,322.3 291.7,320.9 287.7,316.6 C283.7,312.3 283.4,312.4 280.0,309.0 C276.6,305.6 276.6,306.7 275.0,304.0 C273.4,301.3 272.7,302.0 274.0,299.0 Z" fill="#33c46c"/>
<path d="M290.0,300.0 C291.4,296.8 293.6,297.9 298.0,297.0 C302.4,296.1 303.4,295.3 306.5,296.5 C309.6,297.7 309.5,297.9 309.5,301.5 C309.5,305.1 308.3,306.0 306.5,310.0 C304.7,314.0 305.0,314.8 302.7,316.6 C300.4,318.4 300.4,318.6 297.7,316.6 C295.0,314.6 294.8,313.4 292.7,309.0 C290.6,304.6 288.6,303.2 290.0,300.0 Z" fill="#9bee0c"/>
<path d="M520.0,160.0 C513.6,155.9 508.9,168.2 502.7,172.5 C496.5,176.8 496.8,175.9 493.5,178.4 C490.2,180.9 489.5,180.3 488.5,183.4 C487.5,186.5 490.5,188.8 489.3,191.7 C488.1,194.6 486.8,194.3 483.5,195.9 C480.2,197.5 478.1,197.2 475.0,198.4 C471.9,199.6 471.9,199.0 470.0,200.9 C468.1,202.8 467.7,203.8 466.8,206.7 C465.9,209.6 466.8,211.0 466.0,213.4 C465.2,215.8 465.5,215.3 463.4,216.8 C461.3,218.3 459.9,218.6 456.8,220.0 C453.7,221.4 453.1,221.2 450.0,222.6 C446.9,224.0 446.3,224.4 443.4,226.0 C440.5,227.6 440.3,227.2 437.6,229.3 C434.9,231.4 433.9,231.8 431.7,235.0 C429.5,238.2 429.1,239.5 428.0,243.0 C426.9,246.5 427.0,246.7 427.0,250.0 C427.0,253.3 427.1,253.7 428.0,257.0 C428.9,260.3 429.8,261.2 431.0,264.0 C432.2,266.8 433.2,268.3 433.0,269.0 C432.8,269.7 431.9,268.6 430.0,267.0 C428.1,265.4 426.9,264.0 425.0,262.0 C423.1,260.0 423.5,259.6 422.0,258.5 C420.5,257.4 420.8,257.9 418.4,257.5 C416.0,257.1 414.8,256.7 411.7,256.7 C408.6,256.7 407.9,256.5 405.0,257.5 C402.1,258.5 401.1,258.8 399.2,260.9 C397.3,263.0 397.7,263.4 396.7,266.7 C395.7,270.0 395.6,271.1 395.0,275.0 C394.4,278.9 395.0,279.5 394.2,283.4 C393.4,287.3 392.3,288.6 391.7,291.8 C391.1,295.0 391.3,293.9 391.7,297.0 C392.1,300.1 392.4,301.6 393.4,305.0 C394.4,308.4 394.4,309.0 395.9,311.7 C397.4,314.4 398.1,314.4 400.0,316.7 C401.9,319.0 403.4,319.0 404.2,321.7 C405.0,324.4 404.8,325.7 403.4,328.4 C402.0,331.1 401.1,331.7 398.4,333.4 C395.7,335.1 395.2,334.9 391.7,335.5 C388.2,336.1 387.7,335.8 383.5,335.9 C379.3,336.0 378.2,335.3 373.5,335.9 C368.8,336.5 367.5,337.2 363.4,338.4 C359.3,339.6 358.6,339.1 355.9,340.9 C353.2,342.6 352.9,343.0 351.8,345.9 C350.7,348.8 350.8,349.9 351.0,353.4 C351.2,356.9 351.1,357.8 352.6,360.9 C354.1,364.0 354.7,364.4 357.6,366.8 C360.5,369.2 361.3,369.5 365.0,371.0 C368.7,372.5 370.0,372.2 373.5,373.4 C377.0,374.6 377.3,373.3 380.0,376.0 C382.7,378.7 375.7,384.1 385.0,385.0 C394.3,385.9 400.2,390.5 420.0,380.0 C439.8,369.5 451.3,363.3 470.0,340.0 C488.7,316.7 493.0,305.7 500.0,280.0 C507.0,254.3 493.0,251.0 500.0,230.0 C507.0,209.0 525.3,206.3 530.0,190.0 C534.7,173.7 526.4,164.1 520.0,160.0 Z" fill="#33c46c"/>
<path d="M432.6,269.2 C435.3,270.2 435.6,270.2 438.4,273.4 C441.2,276.6 441.0,275.5 441.8,280.0 C442.6,284.5 442.0,283.9 441.0,288.4 C440.0,292.9 440.2,293.5 438.4,295.0 C436.6,296.5 437.5,294.9 435.0,293.4 C432.5,291.9 432.7,292.0 430.0,290.0 C427.3,288.0 427.7,289.8 426.0,286.8 C424.3,283.8 424.1,284.0 424.3,280.0 C424.5,276.0 425.2,276.4 426.7,273.4 C428.2,270.4 427.5,271.3 429.3,270.0 C431.1,268.7 429.9,268.2 432.6,269.2 Z" fill="#319767"/>
<path d="M490.0,182.5 C491.7,179.7 491.3,180.7 495.0,180.0 C498.7,179.3 497.0,179.5 501.0,180.5 C505.0,181.5 506.0,180.2 507.0,183.0 C508.0,185.8 506.8,186.7 504.0,189.0 C501.2,191.3 502.0,189.1 498.5,190.0 C495.0,190.9 496.3,192.2 493.5,191.7 C490.7,191.2 491.2,191.5 490.0,188.4 C488.8,185.3 488.3,185.3 490.0,182.5 Z" fill="#9bee0c"/>
<path d="M499.0,183.0 C500.3,181.0 500.7,181.7 504.0,182.0 C507.3,182.3 508.7,181.9 509.0,184.0 C509.3,186.1 508.0,187.1 505.0,188.4 C502.0,189.7 502.0,189.8 500.0,188.0 C498.0,186.2 497.7,185.0 499.0,183.0 Z" fill="#d2ffd0"/>
<ellipse cx="482.5" cy="177.0" rx="3.0" ry="3.5" fill="#33c46c"/>
<path d="M470.0,205.0 C471.1,201.9 470.8,202.2 473.5,200.0 C476.2,197.8 476.5,198.0 480.0,196.7 C483.5,195.4 483.1,195.2 486.8,195.0 C490.5,194.8 493.1,193.3 494.0,196.0 C494.9,198.7 493.2,199.7 490.0,205.0 C486.8,210.3 485.1,211.7 482.0,216.0 C478.9,220.3 480.1,219.9 478.5,221.0 C476.9,222.1 477.8,221.1 476.0,220.0 C474.2,218.9 473.6,219.0 471.8,216.8 C470.0,214.6 469.8,214.8 469.3,211.7 C468.8,208.6 468.9,208.1 470.0,205.0 Z" fill="#9bee0c"/>
<path d="M473.5,205.9 C474.6,203.0 475.4,202.9 478.5,200.9 C481.6,198.9 481.7,198.8 485.0,198.4 C488.3,198.0 490.2,197.2 491.0,199.5 C491.8,201.8 490.4,202.9 488.0,207.0 C485.6,211.1 484.8,212.6 482.0,215.0 C479.2,217.4 479.7,216.8 477.6,215.9 C475.5,215.0 475.4,214.4 474.3,211.7 C473.2,209.0 472.4,208.8 473.5,205.9 Z" fill="#99f7a5"/>
<path d="M478.5,206.7 C479.4,204.0 480.8,203.5 483.5,202.6 C486.2,201.7 487.8,201.8 488.5,203.5 C489.2,205.2 487.7,206.3 486.0,209.0 C484.3,211.7 483.6,212.5 482.0,213.5 C480.4,214.5 480.9,214.4 480.0,212.6 C479.1,210.8 477.6,209.4 478.5,206.7 Z" fill="#d2ffd0"/>
<path d="M481.8,208.4 C482.4,206.7 483.5,206.0 485.0,205.5 C486.5,205.0 487.5,205.2 487.5,206.5 C487.5,207.8 486.3,209.1 485.0,210.5 C483.7,211.9 483.5,212.3 482.6,211.7 C481.7,211.1 481.2,210.1 481.8,208.4 Z" fill="#ffff9c"/>
<ellipse cx="484.3" cy="209.0" rx="1.6" ry="1.4" fill="#ffc61a"/>
<path d="M473.5,228.4 C471.2,226.1 471.8,226.5 470.0,225.0 C468.2,223.5 468.3,222.7 466.0,221.8 C463.7,220.9 462.9,220.6 460.0,221.0 C457.1,221.4 456.5,221.9 453.4,223.4 C450.3,224.9 449.7,225.6 446.8,227.6 C443.9,229.6 443.5,229.7 441.0,231.8 C438.5,233.9 438.0,233.1 436.0,236.8 C434.0,240.5 433.2,243.3 432.6,247.5 C432.0,251.7 432.4,251.1 433.4,255.0 C434.4,258.9 435.0,259.9 436.8,264.2 C438.6,268.5 439.5,269.7 441.0,273.4 C442.5,277.1 443.2,276.9 443.4,280.0 C443.6,283.1 443.2,283.7 441.8,286.8 C440.4,289.9 439.2,290.3 437.6,293.4 C436.0,296.5 436.0,299.2 435.0,300.0 C434.0,300.8 435.3,298.7 433.4,296.8 C431.5,294.9 429.6,293.6 426.7,291.8 C423.8,290.1 423.3,290.5 421.0,289.3 C418.7,288.1 417.5,289.0 416.7,286.8 C415.9,284.6 417.0,283.1 417.6,280.0 C418.2,276.9 418.8,276.5 419.2,273.4 C419.6,270.3 419.8,269.2 419.2,266.7 C418.6,264.2 418.4,263.9 416.7,262.5 C414.9,261.1 414.0,260.9 411.7,260.9 C409.4,260.9 408.8,261.1 406.7,262.5 C404.6,263.9 403.7,264.2 402.5,266.7 C401.3,269.2 401.9,269.9 401.7,273.4 C401.5,276.9 402.3,277.9 401.7,281.8 C401.1,285.7 400.2,286.5 399.2,290.0 C398.2,293.5 397.9,293.8 397.5,296.8 C397.1,299.8 397.1,299.7 397.5,303.0 C397.9,306.3 397.9,307.7 399.0,311.0 C400.1,314.3 402.0,314.1 402.0,317.0 C402.0,319.9 400.9,320.6 399.0,323.4 C397.1,326.2 396.8,326.8 394.0,329.0 C391.2,331.2 390.0,330.9 387.0,333.0 C384.0,335.1 383.4,336.6 381.0,338.0 C378.6,339.4 379.7,338.5 376.8,339.2 C373.9,339.9 372.0,339.5 368.5,340.9 C365.0,342.3 363.9,342.5 361.8,345.0 C359.7,347.5 359.7,348.6 359.3,351.7 C358.9,354.8 358.8,355.7 360.0,358.4 C361.2,361.1 361.7,361.3 364.3,363.4 C366.9,365.5 367.7,365.8 371.0,367.6 C374.3,369.4 375.6,369.5 378.5,371.0 C381.4,372.5 380.8,370.7 383.5,374.0 C386.2,377.3 381.5,383.6 390.0,385.0 C398.5,386.4 401.3,390.5 420.0,380.0 C438.7,369.5 451.3,363.3 470.0,340.0 C488.7,316.7 497.7,304.5 500.0,280.0 C502.3,255.5 486.2,247.0 480.0,235.0 C473.8,223.0 475.8,230.7 473.5,228.4 Z" fill="#9bee0c"/>
<path d="M470.0,231.7 C465.3,229.2 465.0,229.4 460.0,229.2 C455.0,229.0 453.2,228.9 448.4,230.8 C443.6,232.7 442.0,233.8 439.3,237.5 C436.6,241.2 437.2,242.6 436.8,246.7 C436.4,250.8 436.6,250.9 437.6,255.0 C438.6,259.1 439.4,259.9 441.0,264.2 C442.6,268.5 442.9,269.9 444.3,273.4 C445.7,276.9 446.6,276.4 446.8,279.3 C447.0,282.2 446.4,282.9 445.0,286.0 C443.6,289.1 442.5,289.8 441.0,292.6 C439.5,295.4 439.8,296.3 438.4,298.0 C437.0,299.7 436.7,300.2 435.0,300.0 C433.3,299.8 433.3,298.5 431.0,297.0 C428.7,295.5 428.0,294.9 425.0,293.5 C422.0,292.1 421.0,291.9 418.0,291.0 C415.0,290.1 414.9,289.6 412.0,289.5 C409.1,289.4 408.2,289.2 405.5,290.5 C402.8,291.8 401.9,292.3 400.5,295.0 C399.1,297.7 399.3,298.7 399.5,302.0 C399.7,305.3 400.0,306.4 401.5,309.0 C403.0,311.6 405.6,310.4 406.0,313.0 C406.4,315.6 404.9,316.7 403.0,320.0 C401.1,323.3 400.8,324.0 398.0,327.0 C395.2,330.0 392.9,329.6 391.0,333.0 C389.1,336.4 392.6,339.5 390.0,341.7 C387.4,343.9 384.2,342.0 380.0,342.6 C375.8,343.2 375.1,343.0 371.8,344.2 C368.5,345.4 368.0,345.5 366.0,347.6 C364.0,349.7 363.6,350.7 363.4,353.4 C363.2,356.1 363.5,357.0 365.0,359.3 C366.5,361.6 367.2,361.6 370.0,363.4 C372.8,365.1 373.7,365.3 376.8,366.8 C379.9,368.3 380.4,368.6 383.5,370.0 C386.6,371.4 387.3,369.5 390.0,373.0 C392.7,376.5 388.0,383.4 395.0,385.0 C402.0,386.6 402.5,390.5 420.0,380.0 C437.5,369.5 451.3,363.3 470.0,340.0 C488.7,316.7 497.7,303.3 500.0,280.0 C502.3,256.7 487.0,251.3 480.0,240.0 C473.0,228.7 474.7,234.2 470.0,231.7 Z" fill="#99f7a5"/>
<path d="M406.7,268.4 C407.8,265.1 407.5,265.6 410.0,265.0 C412.5,264.4 412.5,263.9 414.2,266.7 C415.9,269.5 415.3,269.5 415.0,273.4 C414.7,277.3 415.3,276.7 413.4,278.4 C411.5,280.1 411.4,279.5 409.2,278.4 C407.0,277.3 407.5,278.3 406.7,275.0 C405.9,271.7 405.6,271.7 406.7,268.4 Z" fill="#99f7a5"/>
<path d="M468.5,235.0 C463.8,232.1 464.3,232.7 460.0,232.5 C455.7,232.3 454.1,232.6 450.0,234.2 C445.9,235.8 444.9,236.3 442.6,239.2 C440.3,242.1 440.4,243.0 440.0,246.7 C439.6,250.4 440.0,251.1 441.0,255.0 C442.0,258.9 442.8,259.5 444.3,263.4 C445.8,267.3 446.3,268.2 447.6,271.7 C448.9,275.2 449.8,275.3 450.0,278.4 C450.2,281.5 449.7,281.9 448.4,285.0 C447.1,288.1 445.8,288.9 444.3,291.8 C442.8,294.7 443.3,295.6 441.8,297.5 C440.3,299.4 440.3,299.5 438.0,300.0 C435.7,300.5 435.3,300.3 432.0,299.5 C428.7,298.7 427.7,297.7 424.0,296.5 C420.3,295.3 419.3,295.1 416.0,294.5 C412.7,293.9 412.6,293.5 410.0,294.0 C407.4,294.5 406.7,294.6 405.0,296.5 C403.3,298.4 402.8,299.1 402.8,302.0 C402.8,304.9 403.6,306.2 405.0,309.0 C406.4,311.8 408.8,311.0 409.0,314.0 C409.2,317.0 407.9,318.5 406.0,322.0 C404.1,325.5 403.3,325.7 401.0,329.0 C398.7,332.3 397.8,332.6 396.0,336.0 C394.2,339.4 396.4,341.1 393.5,343.4 C390.6,345.7 387.8,344.9 383.5,345.9 C379.2,346.9 378.1,346.4 375.0,347.6 C371.9,348.8 371.5,349.1 370.0,351.0 C368.5,352.9 368.3,353.6 368.5,355.9 C368.7,358.2 369.1,359.0 371.0,360.9 C372.9,362.8 373.5,362.6 376.8,364.2 C380.1,365.8 381.1,366.0 385.0,367.6 C388.9,369.2 390.0,369.5 393.5,371.0 C397.0,372.5 398.0,370.7 400.0,374.0 C402.0,377.3 397.3,383.6 402.0,385.0 C406.7,386.4 404.1,390.5 420.0,380.0 C435.9,369.5 451.3,363.3 470.0,340.0 C488.7,316.7 497.7,302.2 500.0,280.0 C502.3,257.8 487.4,255.5 480.0,245.0 C472.6,234.5 473.2,237.9 468.5,235.0 Z" fill="#d2ffd0"/>
<path d="M465.0,239.2 C460.3,236.3 463.1,237.7 460.0,237.5 C456.9,237.3 455.1,237.4 451.8,238.4 C448.5,239.4 448.0,239.8 446.0,241.7 C444.0,243.6 443.8,244.0 443.4,246.7 C443.0,249.4 443.3,249.9 444.3,253.4 C445.3,256.9 446.0,257.8 447.6,261.7 C449.2,265.6 449.6,266.3 451.0,270.0 C452.4,273.7 453.2,274.3 453.4,277.6 C453.6,280.9 453.0,281.2 451.8,284.3 C450.6,287.4 449.8,288.1 448.4,291.0 C447.0,293.9 447.3,294.4 446.0,296.8 C444.7,299.2 445.1,299.5 443.0,301.5 C440.9,303.5 440.5,304.2 437.0,305.5 C433.5,306.8 432.0,306.3 428.0,307.0 C424.0,307.7 423.1,307.3 420.0,308.5 C416.9,309.7 416.7,309.8 414.5,312.0 C412.3,314.2 412.4,315.0 410.5,318.0 C408.6,321.0 408.6,321.9 406.5,325.0 C404.4,328.1 403.5,328.2 401.5,331.5 C399.5,334.8 399.1,335.9 398.0,339.0 C396.9,342.1 398.7,342.8 396.8,345.0 C394.9,347.2 393.1,347.0 390.0,348.4 C386.9,349.8 386.6,350.0 383.5,351.0 C380.4,352.0 379.1,351.5 376.8,352.6 C374.5,353.7 373.5,354.3 373.5,355.9 C373.5,357.5 374.1,357.9 376.8,359.3 C379.5,360.7 381.1,360.5 385.0,361.8 C388.9,363.1 389.6,363.5 393.5,365.0 C397.4,366.5 399.1,366.8 401.8,368.4 C404.5,370.0 403.6,368.1 405.0,372.0 C406.4,375.9 404.5,383.1 408.0,385.0 C411.5,386.9 405.5,390.5 420.0,380.0 C434.5,369.5 451.3,363.3 470.0,340.0 C488.7,316.7 497.7,301.0 500.0,280.0 C502.3,259.0 488.2,259.5 480.0,250.0 C471.8,240.5 469.7,242.1 465.0,239.2 Z" fill="#ffff9c"/>
<path d="M463.5,240.9 C458.5,238.8 461.2,240.8 458.5,241.0 C455.8,241.2 454.2,240.8 451.8,241.7 C449.4,242.6 449.0,243.1 448.4,245.0 C447.8,246.9 448.5,246.9 449.3,250.0 C450.1,253.1 450.5,254.1 451.8,258.4 C453.1,262.7 453.4,264.1 455.0,268.4 C456.6,272.7 458.1,273.3 458.5,276.8 C458.9,280.3 458.2,280.3 456.8,283.4 C455.4,286.5 454.4,286.9 452.6,290.0 C450.9,293.1 450.6,294.1 449.3,296.8 C448.0,299.5 448.4,299.6 447.0,301.7 C445.6,303.8 446.2,304.5 443.4,305.9 C440.6,307.3 438.9,306.9 435.0,307.5 C431.1,308.1 430.3,307.4 426.8,308.4 C423.3,309.4 422.8,309.8 420.0,311.7 C417.2,313.6 417.1,314.0 415.0,316.7 C412.9,319.4 413.1,320.1 411.0,323.4 C408.9,326.7 408.5,327.9 405.9,331.0 C403.3,334.1 401.4,333.0 400.0,336.7 C398.6,340.4 401.5,343.4 400.0,346.7 C398.5,350.0 396.6,349.2 393.5,351.0 C390.4,352.8 390.5,352.9 386.8,354.2 C383.1,355.5 377.6,355.9 377.6,356.7 C377.6,357.5 383.1,356.8 386.8,357.6 C390.5,358.4 390.4,358.6 393.5,360.0 C396.6,361.4 396.9,362.0 400.0,363.4 C403.1,364.8 404.0,363.3 406.8,366.0 C409.6,368.7 408.9,371.7 412.0,375.0 C415.1,378.3 406.5,388.2 420.0,380.0 C433.5,371.8 451.3,363.3 470.0,340.0 C488.7,316.7 497.7,301.0 500.0,280.0 C502.3,259.0 488.5,259.1 480.0,250.0 C471.5,240.9 468.5,243.0 463.5,240.9 Z" fill="#ffc61a"/>
<path d="M465.0,240.5 C461.0,238.4 464.2,240.5 463.0,241.0 C461.8,241.5 460.8,241.1 459.8,242.5 C458.8,243.9 458.6,244.1 458.8,247.0 C459.0,249.9 459.8,251.2 460.6,255.0 C461.4,258.8 461.3,259.1 462.3,263.4 C463.3,267.7 463.7,269.5 465.0,273.4 C466.3,277.3 467.8,276.9 468.0,280.0 C468.2,283.1 467.9,284.0 466.0,286.8 C464.1,289.6 462.6,289.5 460.0,291.8 C457.4,294.1 456.5,294.5 455.0,296.8 C453.5,299.1 455.0,299.2 453.5,301.7 C452.0,304.2 451.2,305.4 448.5,307.5 C445.8,309.6 445.3,309.9 441.8,310.9 C438.3,311.9 436.9,311.1 433.4,311.7 C429.9,312.3 429.9,311.8 426.8,313.4 C423.7,315.0 422.8,315.9 420.0,318.4 C417.2,320.9 417.1,321.3 415.0,324.2 C412.9,327.1 413.1,328.0 411.0,331.0 C408.9,334.0 407.8,334.1 406.0,337.0 C404.2,339.9 405.2,340.7 403.5,343.4 C401.8,346.1 400.2,346.1 398.5,348.4 C396.8,350.7 396.0,351.1 396.0,353.4 C396.0,355.7 396.8,356.4 398.5,358.4 C400.2,360.4 400.8,360.5 403.5,361.8 C406.2,363.1 406.6,360.9 410.0,364.0 C413.4,367.1 404.0,380.6 418.0,375.0 C432.0,369.4 450.9,362.2 470.0,340.0 C489.1,317.8 497.7,301.0 500.0,280.0 C502.3,259.0 488.2,259.2 480.0,250.0 C471.8,240.8 469.0,242.6 465.0,240.5 Z" fill="#ff9933"/>
<path d="M451.8,316.7 C448.3,315.6 447.8,313.8 445.0,313.4 C442.2,313.0 441.9,313.6 440.0,315.0 C438.1,316.4 438.9,317.1 436.8,319.2 C434.7,321.3 434.1,322.4 431.0,324.2 C427.9,325.9 427.1,325.1 423.4,326.7 C419.7,328.3 417.9,328.1 415.0,331.0 C412.1,333.9 412.5,334.9 411.0,339.0 C409.5,343.1 409.1,344.9 408.5,348.4 C407.9,351.9 407.8,351.5 408.4,354.0 C409.0,356.5 408.8,357.1 411.0,359.0 C413.2,360.9 411.2,365.3 418.0,362.0 C424.8,358.7 429.7,351.3 440.0,345.0 C450.3,338.7 457.3,341.3 462.0,335.0 C466.7,328.7 462.4,322.3 460.0,318.0 C457.6,313.7 455.3,317.8 451.8,316.7 Z" fill="#ff6633"/>
<ellipse cx="312.5" cy="372.6" rx="11.5" ry="12.0" fill="#33c46c"/>
<ellipse cx="312.5" cy="373.5" rx="7.5" ry="8.0" fill="#9bee0c"/>
<ellipse cx="313.0" cy="374.5" rx="4.8" ry="5.2" fill="#99f7a5"/>
<ellipse cx="313.5" cy="375.5" rx="2.8" ry="3.0" fill="#d2ffd0"/>
<ellipse cx="336.0" cy="357.6" rx="4.5" ry="5.5" fill="#33c46c"/>
<ellipse cx="345.0" cy="371.8" rx="4.5" ry="4.5" fill="#33c46c"/>
<ellipse cx="302.5" cy="341.7" rx="4.0" ry="4.0" fill="#33c46c"/>
<ellipse cx="261.4" cy="307.8" rx="4.0" ry="3.2" fill="#33c46c"/>
<ellipse cx="264.4" cy="336.6" rx="2.3" ry="2.3" fill="#32ac68"/>
<ellipse cx="232.0" cy="329.0" rx="2.3" ry="2.3" fill="#32ac68"/>
<ellipse cx="209.2" cy="330.8" rx="7.0" ry="7.2" fill="#32ac68"/>
<ellipse cx="210.5" cy="331.6" rx="4.0" ry="4.0" fill="#33c46c"/>
<ellipse cx="211.3" cy="332.0" rx="1.8" ry="1.8" fill="#9bee0c"/>
<ellipse cx="212.6" cy="247.3" rx="4.2" ry="6.0" fill="#33c46c"/>
<ellipse cx="212.4" cy="247.6" rx="1.8" ry="3.0" fill="#9bee0c"/>
<ellipse cx="235.9" cy="179.6" rx="6.2" ry="6.0" fill="#33c46c"/>
<ellipse cx="235.9" cy="179.6" rx="4.6" ry="4.4" fill="#9bee0c"/>
<ellipse cx="235.5" cy="179.4" rx="2.0" ry="2.0" fill="#9bee0c"/>
<ellipse cx="293.8" cy="179.0" rx="9.4" ry="9.8" fill="#33c46c"/>
<ellipse cx="293.8" cy="179.0" rx="6.7" ry="7.1" fill="#9bee0c"/>
<ellipse cx="294.0" cy="179.3" rx="2.2" ry="2.4" fill="#99f7a5"/>
<ellipse cx="312.0" cy="293.0" rx="4.0" ry="3.5" fill="#33c46c"/>
</g></g>
<g clip-path="url(#cpS)" fill="none" stroke="#b4efc8" stroke-opacity="0.9" stroke-width="1" stroke-linejoin="round" stroke-linecap="round">
<path d="M205.1,42.5 L204.6,45.2 L203.3,47.5 L201.9,49.9 L201.3,52.5 L200.1,55.6 L199.1,58.7 L198.6,61.9 L197.6,65.0 L196.5,68.1 L196.3,71.3 L196.3,74.5 L195.1,77.6 L195.8,80.0 L196.3,82.6"/>
<path d="M196.3,82.6 L193.4,82.9 L190.5,83.8 L187.6,83.8 L184.1,84.0 L180.7,84.9 L177.5,86.3 L175.1,87.2 L172.5,87.8 L170.0,88.8 L167.7,90.8 L165.2,92.5 L162.5,93.8"/>
<path d="M196.3,82.6 L197.2,85.8 L197.0,89.3 L197.6,92.6 L197.4,95.2 L196.3,97.6 L198.6,99.7 L201.3,101.3 L204.2,102.3 L207.2,102.9 L210.1,103.8 L212.6,104.4 L215.1,104.8 L217.6,105.1 L220.5,106.5 L222.6,108.9 L223.6,106.4 L224.6,103.9 L225.5,101.4 L226.4,98.8 L230.1,97.6 L231.3,100.8 L233.2,103.6 L235.1,106.3 L235.9,108.8 L236.4,111.4"/>
<path d="M196.3,97.6 L193.5,96.5 L190.5,96.8 L187.6,96.3 L184.3,97.3 L181.3,98.8 L181.4,101.8 L182.5,104.6 L182.5,107.6 L184.3,109.8 L184.9,112.7 L186.3,115.1 L186.2,117.7 L185.1,120.1"/>
<path d="M236.4,111.4 L233.6,112.0 L231.1,113.4 L228.9,115.1 L227.3,117.5 L226.4,120.1 L227.6,122.5 L228.1,125.1"/>
<path d="M236.4,111.4 L239.0,112.8 L242.1,113.0 L244.7,114.6 L247.6,115.1 L250.7,116.4 L254.0,116.1 L257.0,117.4 L260.2,117.6 L263.3,118.0 L266.5,118.4 L269.6,119.3 L272.7,120.1 L275.0,122.5 L278.0,123.9 L280.2,126.4 L284.0,127.6"/>
<path d="M301.5,91.3 L300.9,94.1 L300.3,96.9 L301.2,99.9 L300.2,102.6 L298.8,105.3 L298.1,108.3 L297.7,111.4 L295.3,112.4 L292.6,111.8 L290.2,112.6 L286.5,113.9 L285.6,116.7 L286.1,119.8 L285.2,122.6 L285.1,125.9 L286.4,128.9 L286.8,132.0 L287.2,135.1 L286.7,138.5 L286.4,141.8 L286.5,145.2 L286.4,148.1 L287.4,151.0 L287.4,154.0 L287.7,156.9"/>
<path d="M297.7,111.4 L298.4,114.1 L298.2,117.0 L298.0,119.9 L299.0,122.6 L300.0,125.2 L301.5,127.6 L302.7,130.1 L305.4,131.6 L308.0,133.1 L310.2,135.1 L312.5,136.6 L315.1,137.1 L317.8,137.6 L322.0,138.9"/>
<path d="M230.1,97.6 L229.2,95.2 L229.7,92.5 L228.9,90.1 L231.2,87.9 L232.6,85.1"/>
<path d="M322.5,88.8 L325.4,87.9 L328.5,87.7 L331.5,87.3 L334.4,86.2 L337.5,86.2 L340.6,85.9 L343.8,86.3 L346.9,85.4 L350.0,85.0 L353.3,84.4 L356.7,84.1 L360.0,83.0 L362.0,81.5 L364.0,79.9 L366.2,78.8 L368.6,79.8 L371.2,80.0"/>
<path d="M323.8,90.0 L322.9,92.9 L323.4,96.0 L322.6,99.0 L323.1,102.0 L322.5,105.0 L323.5,107.5 L324.7,109.9 L325.3,112.5 L326.2,115.0 L328.1,117.9 L328.8,121.2 L330.7,124.3 L332.5,127.5 L332.3,130.0 L332.3,132.6 L331.2,135.0 L331.7,137.6 L332.4,140.2 L333.8,142.5 L336.0,145.4 L337.5,148.8 L339.3,150.2 L341.2,151.2"/>
<path d="M368.8,66.2 L367.9,69.1 L368.3,72.1 L367.5,75.0 L368.9,77.9 L371.2,80.0"/>
<path d="M371.2,80.0 L369.6,82.5 L367.7,84.9 L366.2,87.5 L365.3,90.8 L364.3,94.1 L363.8,97.5 L364.0,100.2 L365.1,102.6 L366.2,105.0 L365.9,107.6 L365.0,110.1 L363.8,112.5 L365.1,115.4 L366.4,118.3 L367.5,121.2 L369.7,123.1 L372.4,124.0 L375.0,125.0 L377.5,125.4 L380.0,125.6 L382.5,126.2 L384.1,124.1 L386.2,122.5"/>
<path d="M371.2,80.0 L374.0,78.5 L377.2,78.8 L380.0,77.5 L383.0,79.6 L386.2,81.2 L389.2,80.0 L392.5,80.0 L395.7,78.2 L398.8,76.2"/>
<path d="M386.2,66.2 L386.2,68.8 L386.0,71.3 L385.0,73.8 L387.4,76.0 L390.2,77.6 L392.5,80.0"/>
<path d="M398.8,76.2 L401.2,75.0 L402.7,72.6 L405.0,71.2 L406.3,69.0 L407.9,67.1 L410.0,65.5"/>
<path d="M398.8,76.2 L398.7,79.2 L399.4,82.1 L400.0,85.0 L397.9,87.3 L396.2,90.0 L394.2,92.4 L391.2,93.8 L389.8,96.2 L388.8,98.8 L391.4,100.6 L394.4,101.9 L397.2,103.4 L400.0,105.0 L402.7,106.3 L405.1,108.0 L407.4,109.8 L410.0,111.2 L411.4,114.6 L413.8,117.5 L412.4,120.0 L411.2,122.5 L409.4,124.4 L407.5,126.2"/>
<path d="M373.8,92.5 L376.7,90.9 L380.0,90.0 L382.7,90.8 L385.1,92.4 L387.5,93.8 L387.3,97.0 L386.2,100.0 L383.4,100.5 L380.5,101.4 L377.5,101.2 L375.0,99.3 L372.5,97.5 L373.2,95.0 L373.8,92.5"/>
<path d="M366.2,105.0 L369.2,104.9 L372.0,103.7 L375.0,103.8 L377.6,102.2 L380.4,101.6 L383.4,101.1 L385.9,99.5 L388.8,98.8"/>
<path d="M386.2,122.5 L389.3,122.2 L392.0,120.4 L395.0,120.0 L397.3,121.6 L400.0,122.5 L402.5,123.8 L404.7,125.6 L407.5,126.2"/>
<path d="M407.5,126.2 L408.3,129.2 L409.6,132.0 L410.0,135.0 L409.0,138.3 L409.0,141.6 L408.8,145.0 L409.0,148.3 L409.0,151.7 L410.0,155.0 L407.9,157.9 L405.0,160.0 L402.2,162.2 L400.0,165.0 L399.8,168.4 L398.8,171.8"/>
<path d="M407.5,126.2 L410.9,126.3 L414.1,127.5 L417.5,128.0 L420.6,126.4 L423.8,125.0 L424.7,121.7 L424.7,118.4 L425.0,115.0 L425.9,111.7 L427.3,108.5 L427.5,105.0 L429.2,102.9 L431.6,101.6 L433.0,99.3 L435.0,97.5 L437.1,95.1 L438.8,92.5 L440.0,89.7 L440.3,86.8 L440.5,83.8"/>
<path d="M353.8,141.2 L355.4,139.2 L357.2,137.2 L358.8,135.0 L360.5,133.5 L362.5,132.5 L364.3,129.9 L365.3,127.0 L366.6,124.2 L367.5,121.2"/>
<path d="M442.5,85.0 L442.8,88.2 L442.5,91.3 L441.7,94.4 L441.2,97.5 L442.4,100.5 L441.9,103.9 L443.8,106.7 L443.8,110.0 L443.3,113.3 L443.1,116.7 L442.5,120.0 L442.9,122.7 L444.6,124.8 L445.0,127.5 L447.0,129.2 L448.9,131.1 L450.9,132.9 L452.5,135.0 L455.4,136.3 L457.6,138.7 L460.3,140.2 L462.5,142.5 L464.3,144.5 L466.7,145.8 L468.3,147.9 L470.0,150.0 L471.9,152.5 L473.8,155.0 L477.1,155.6 L480.4,154.4 L483.8,155.0 L485.2,151.6 L487.5,148.8"/>
<path d="M496.2,90.0 L496.2,93.3 L497.4,96.3 L498.6,99.3 L498.8,102.5 L497.8,105.6 L498.2,108.8 L497.4,111.8 L497.5,115.0 L497.3,118.5 L496.3,121.8 L495.0,125.0 L493.2,127.2 L492.1,129.8 L491.2,132.5 L490.6,135.3 L488.8,137.5 L487.5,140.0 L487.2,142.9 L487.0,145.9 L486.2,148.8 L487.4,151.8 L487.5,155.0 L487.1,158.2 L486.2,161.2"/>
<path d="M486.2,161.2 L483.3,161.3 L480.7,162.9 L477.7,162.7 L475.0,163.8 L471.6,163.2 L468.4,161.8 L465.0,161.2 L462.4,160.2 L460.1,158.6 L457.5,157.5 L454.9,158.6 L452.5,160.0 L450.5,163.0 L447.5,165.0 L444.9,166.0 L442.7,167.9 L440.0,168.8"/>
<path d="M486.2,161.2 L485.3,163.7 L484.5,166.2 L483.8,168.8 L483.2,171.9 L482.5,175.0 L483.1,177.6 L484.2,180.0 L485.0,182.5 L484.6,185.6 L484.6,188.7 L483.8,191.8"/>
<path d="M487.5,155.0 L490.9,154.8 L494.1,156.0 L497.5,156.2 L500.0,155.4 L502.3,153.8 L504.8,152.8 L507.5,152.5 L510.4,150.9 L512.4,148.2 L515.0,146.2 L517.5,145.6 L520.0,145.6 L522.5,145.0"/>
<path d="M536.2,107.5 L534.8,110.7 L534.9,114.3 L533.8,117.5 L532.9,120.0 L532.6,122.7 L531.2,125.0 L530.6,128.2 L529.2,131.0 L527.5,133.8 L524.9,135.5 L522.5,137.5 L522.8,141.2 L522.5,145.0 L524.8,147.7 L527.5,150.0 L527.6,152.5 L528.3,155.0 L528.8,157.5 L531.0,158.5 L532.5,160.5"/>
<path d="M536.2,107.5 L539.4,108.2 L542.5,108.8 L543.4,112.0 L545.0,115.0 L547.6,115.1 L549.9,116.4 L552.5,116.2 L554.8,117.6 L557.3,118.5 L560.0,118.8 L560.4,121.9 L561.2,125.0 L559.5,127.0 L557.5,128.8 L559.7,131.6 L562.5,133.8 L566.2,133.2 L570.0,133.8 L571.4,135.9 L573.0,138.0"/>
<path d="M467.5,187.5 L470.0,185.0 L472.5,182.5 L475.1,183.0 L477.4,184.5 L480.0,185.0 L483.8,183.8"/>
<path d="M226.2,208.8 L229.3,207.3 L232.5,206.2 L235.2,205.3 L237.2,203.2 L239.9,202.2 L242.5,201.2 L244.9,200.2 L247.7,199.9 L249.9,198.2 L252.5,197.5 L255.4,198.9 L258.6,199.5 L261.2,201.2 L263.9,201.6 L266.2,203.2 L268.8,203.8 L270.7,202.6 L272.5,201.2 L274.0,198.9 L275.0,196.2 L276.6,194.1 L278.3,192.1 L280.0,190.0 L282.3,188.0 L284.8,186.3 L287.5,185.0 L289.1,182.1 L291.3,179.7 L293.8,177.5 L295.8,175.4 L298.0,173.4 L300.0,171.2"/>
<path d="M243.8,161.2 L246.9,161.3 L250.0,161.5 L253.1,162.4 L256.2,162.6 L259.4,162.0 L262.5,162.5 L265.6,163.3 L268.7,163.8 L271.8,163.9 L275.0,163.8 L278.1,163.9 L280.6,166.1 L283.8,166.2 L285.9,167.9 L287.5,170.0 L289.3,172.8 L292.0,174.7 L293.8,177.5"/>
<path d="M285.0,150.0 L285.4,153.3 L285.9,156.7 L286.2,160.0 L284.7,163.0 L283.8,166.2"/>
<path d="M272.5,201.2 L274.2,203.3 L276.2,205.2 L277.5,207.5 L278.6,210.8 L280.3,213.6 L282.5,216.2 L281.7,219.1 L281.2,222.0 L281.2,225.0 L284.2,227.0 L286.2,230.0 L286.3,232.6 L287.6,234.9 L287.5,237.5 L288.5,240.4 L289.2,243.3 L290.0,246.2 L293.3,247.8 L296.2,250.0 L298.2,247.5 L300.0,245.0 L302.5,246.8 L305.0,248.8 L307.2,246.9 L309.9,246.0 L312.5,245.0"/>
<path d="M282.5,216.2 L285.7,215.9 L288.8,215.2 L291.9,214.5 L295.0,213.8 L297.5,212.5 L300.2,211.7 L302.5,210.0 L304.9,209.1 L307.5,208.9 L310.0,208.8 L312.5,208.0 L314.8,206.6 L317.5,206.2 L319.9,207.3 L322.6,207.7 L325.0,208.8 L327.3,210.1 L330.1,210.3 L332.3,212.0 L335.0,212.5 L337.6,214.7 L341.0,215.6 L343.8,217.5 L342.2,220.8 L340.0,223.8 L338.5,225.5 L336.2,226.2"/>
<path d="M205.0,236.2 L207.4,238.5 L210.0,240.7 L212.6,242.7 L215.0,245.0 L218.3,245.8 L221.7,245.7 L225.0,246.2 L226.6,249.3 L227.2,252.8 L228.5,256.0"/>
<path d="M280.6,260.2 L283.7,259.0 L287.0,259.0 L289.4,256.9 L292.0,255.0 L294.5,252.9 L296.0,250.0"/>
<path d="M312.5,245.0 L315.1,245.4 L317.5,246.6 L320.0,247.5 L322.6,246.5 L324.8,244.6 L327.5,243.8 L329.7,245.8 L332.7,246.8 L335.0,248.8 L338.4,248.7 L341.7,249.5 L345.0,250.0 L348.3,249.4 L351.7,249.5 L355.0,248.8 L357.7,249.6 L360.5,249.8 L363.4,249.7 L366.2,249.6 L368.9,250.4 L371.8,250.0"/>
<path d="M300.0,245.0 L301.5,248.2 L301.4,251.7 L302.5,255.0 L302.1,257.9 L301.3,260.8 L300.9,263.7 L301.2,266.8"/>
<path d="M336.2,226.2 L340.0,224.5"/>
<path d="M400.0,167.5 L402.5,170.0 L405.0,172.5 L407.9,173.6 L409.8,176.2 L412.5,177.5 L414.9,176.2 L417.6,176.1 L420.0,175.0 L422.1,172.8 L424.8,171.4 L427.5,170.0 L430.0,169.2 L432.6,168.6 L435.0,167.5 L438.4,167.6 L441.7,166.5 L445.0,166.2 L447.3,164.3 L449.9,162.7 L452.5,161.2 L455.2,160.3 L457.5,158.8"/>
<path d="M412.5,177.5 L413.6,180.1 L414.8,182.6 L416.3,185.0 L417.5,187.5 L416.7,190.4 L416.0,193.4 L415.0,196.2 L416.3,199.0 L418.6,201.1 L420.0,203.8 L422.1,205.9 L423.7,208.5 L425.0,211.2 L426.6,213.4 L427.9,215.7 L430.0,217.5 L433.1,218.8 L436.2,220.0 L434.1,217.2 L433.0,213.8 L430.2,213.5 L427.5,212.5 L425.0,211.2"/>
<path d="M363.8,208.8 L364.5,212.1 L366.2,215.0 L369.4,213.8 L371.8,211.1 L375.0,210.0 L375.9,207.3 L377.2,204.8 L379.0,202.6 L380.0,200.0 L382.5,198.7 L385.0,197.6 L387.7,196.6 L390.0,195.0 L392.5,194.3 L395.2,193.8 L397.5,192.5 L400.3,193.2 L402.4,195.1 L405.0,196.2 L408.3,196.9 L411.7,196.4 L415.0,196.2"/>
<path d="M340.0,220.0 L343.3,219.1 L346.7,218.3 L350.0,217.5 L352.4,218.5 L354.9,218.6 L357.5,218.8 L360.6,217.9 L363.1,215.7 L366.2,215.0 L367.3,217.5 L368.0,220.0 L369.1,222.5 L370.0,225.0 L370.1,228.4 L369.3,231.7 L368.8,235.0 L369.6,238.3 L369.8,241.8 L371.2,245.0 L371.1,247.6 L372.4,249.9 L372.5,252.5 L371.3,254.9 L371.2,257.6 L370.0,260.0"/>
<path d="M436.2,220.0 L435.3,222.4 L435.0,224.9 L435.0,227.5 L432.7,229.0 L431.7,231.7 L429.8,233.6 L427.5,235.0 L426.9,237.6 L425.4,239.9 L425.0,242.5 L422.3,244.8 L420.0,247.5 L417.3,247.8 L414.8,248.6 L412.5,250.0 L409.2,250.9 L405.8,251.7 L402.5,252.5 L399.7,254.8 L396.2,256.2 L393.3,256.2 L390.5,257.7 L387.5,257.5 L384.4,256.7 L381.5,255.6 L378.5,254.4 L375.4,253.8 L372.5,252.5"/>
<path d="M482.5,175.0 L481.7,177.7 L479.8,179.9 L478.8,182.5 L476.4,183.9 L475.0,186.3 L472.5,187.5 L470.0,188.2 L467.3,188.6 L465.0,190.0 L464.4,192.6 L463.9,195.2 L462.5,197.5 L462.7,200.2 L464.3,202.5 L465.0,205.0 L463.0,206.8 L461.4,209.0 L460.0,211.2 L457.6,213.4 L454.6,214.9 L452.5,217.5 L449.6,218.9 L447.5,221.2 L445.1,222.3 L442.6,222.7 L440.0,222.5 L438.4,220.8 L436.2,220.0"/>
<path d="M425.0,242.5 L426.5,245.1 L428.7,247.2 L430.0,250.0 L432.1,252.9 L435.0,255.0 L434.2,257.5 L433.4,260.0 L432.5,262.5 L433.6,264.7 L435.0,266.8"/>
<path d="M396.2,256.2 L397.6,259.3 L398.8,262.5 L397.3,264.5 L396.2,266.8"/>
<path d="M228.5,256.0 L231.4,256.7 L233.7,258.5 L236.8,258.4 L239.9,258.4 L243.0,258.5 L246.0,259.3 L247.7,261.6 L249.9,263.4 L252.0,265.4 L254.4,264.2 L257.0,263.3 L260.3,261.8 L264.0,261.5 L266.9,262.7 L270.0,263.0 L271.5,260.8 L273.7,259.3 L277.2,259.2 L280.6,260.2"/>
<path d="M305.0,255.0 L303.7,258.2 L302.8,261.5 L302.5,265.0 L300.3,267.8 L297.5,270.0 L298.2,272.9 L298.4,275.8 L298.8,278.8 L297.3,282.1 L295.0,285.0 L291.8,286.4 L288.3,286.3 L285.0,287.5 L282.6,289.4 L279.8,290.6 L277.5,292.5 L275.3,294.7 L274.2,297.5 L272.5,300.0 L273.0,303.4 L274.8,306.5 L275.0,310.0"/>
<path d="M295.0,285.0 L297.4,286.2 L299.8,287.3 L302.3,288.4 L305.0,288.8 L307.4,290.5 L310.2,291.5 L312.1,294.0 L315.0,295.0 L317.1,297.9 L320.0,300.0"/>
<path d="M320.0,300.0 L320.0,303.3 L321.4,306.2 L322.4,309.3 L322.5,312.5 L321.5,315.6 L321.5,318.7 L321.4,321.9 L321.2,325.0 L321.7,327.7 L323.0,330.1 L324.7,332.3 L325.0,335.0 L325.9,337.7 L327.4,340.1 L328.3,342.7 L330.0,345.0"/>
<path d="M222.5,306.2 L224.7,308.1 L227.8,308.2 L230.2,309.7 L232.5,311.2 L235.7,312.6 L239.0,313.5 L242.5,313.8 L245.0,315.1 L247.4,316.4 L250.0,317.5 L252.7,317.0 L255.2,316.2 L257.7,315.2 L260.0,313.8 L262.7,312.9 L265.0,311.3 L267.5,310.0 L271.2,309.7 L275.0,310.0"/>
<path d="M250.0,317.5 L250.0,320.1 L248.6,322.4 L248.8,325.0 L246.3,326.1 L243.6,326.4 L241.3,327.9 L238.8,328.8 L238.8,332.0 L237.5,335.0 L238.5,337.5 L239.0,340.1 L240.4,342.5 L241.2,345.0 L241.5,348.4 L242.0,351.7 L242.5,355.0 L242.7,358.4 L241.3,361.6 L241.2,365.0 L240.7,368.4 L240.0,371.8"/>
<path d="M275.0,310.0 L275.7,313.4 L276.6,316.7 L277.5,320.0 L277.9,322.7 L278.7,325.2 L280.0,327.6 L281.2,330.0 L278.8,332.5 L281.7,332.0 L284.6,331.7 L287.5,331.2 L289.8,333.3 L292.4,334.7 L295.0,336.2 L296.5,339.3 L297.5,342.5 L299.7,344.1 L300.8,346.7 L303.6,347.7 L305.0,350.0"/>
<path d="M305.0,350.0 L308.3,349.2 L311.8,348.9 L315.0,347.5 L317.3,345.9 L319.9,344.8 L322.5,343.8 L325.1,343.8 L327.6,344.1 L330.0,345.0"/>
<path d="M305.0,350.0 L302.4,352.4 L300.0,355.0 L297.7,356.6 L295.0,357.5 L293.0,360.5 L290.0,362.5 L287.6,363.5 L285.1,364.5 L282.5,365.0 L280.1,363.7 L277.3,363.9 L275.0,362.5 L272.7,364.7 L270.0,366.2 L266.6,366.4 L263.3,366.0 L260.0,365.0"/>
<path d="M315.0,347.5 L315.6,350.1 L316.0,352.7 L317.5,355.0 L317.8,357.7 L319.7,359.8 L320.0,362.5 L321.4,364.8 L322.2,367.3 L324.0,369.3 L325.0,371.8"/>
<path d="M320.0,298.8 L323.3,298.2 L326.7,298.2 L330.0,297.5 L333.1,296.8 L336.3,297.4 L339.4,296.7 L342.5,296.2 L345.7,295.9 L348.7,297.2 L351.9,297.0 L355.0,297.5 L358.0,296.2 L361.3,296.5 L364.3,295.2 L367.5,295.0 L370.8,294.0 L374.1,293.1 L377.5,292.5 L380.7,292.1 L383.8,291.2 L385.2,294.1 L386.9,296.8 L387.5,300.0 L387.8,303.3 L388.7,306.6 L388.8,310.0 L386.9,312.5 L385.0,315.0"/>
<path d="M383.8,291.2 L382.4,288.5 L381.9,285.5 L381.2,282.5 L379.2,280.3 L378.0,277.4 L376.2,275.0 L377.4,272.6 L377.9,270.0 L378.8,267.5 L378.0,265.0 L377.5,262.4 L376.2,260.0"/>
<path d="M330.0,345.0 L332.5,342.9 L335.0,340.9 L337.5,338.8 L339.8,337.2 L342.8,336.8 L345.1,335.2 L347.5,333.8 L350.8,332.9 L354.3,332.4 L357.5,331.2 L360.1,330.3 L362.7,329.2 L365.0,327.5 L367.5,326.2 L369.1,323.7 L371.9,322.3 L373.8,320.0 L376.9,318.1 L380.0,316.2 L382.5,315.8 L385.0,315.0 L387.7,315.3 L390.0,316.6 L392.5,317.5 L392.9,320.9 L393.6,324.3 L395.0,327.5 L393.3,329.8 L392.1,332.3 L391.2,335.0 L390.0,337.5 L388.1,339.7 L387.5,342.5"/>
<path d="M377.5,353.8 L376.8,357.1 L375.0,360.0 L374.0,362.4 L374.6,365.1 L373.8,367.5 L373.3,370.7 L372.1,373.7 L371.2,376.8"/>
<path d="M425.0,286.2 L427.5,284.4 L430.0,282.5 L432.5,282.9 L435.0,283.4 L437.5,283.8 L440.0,285.6 L442.5,287.5 L441.5,289.9 L442.0,292.5 L441.2,295.0 L439.5,296.4 L437.5,297.5"/>
<path d="M430.0,272.5 L429.7,275.2 L428.6,277.6 L427.5,280.0 L425.7,282.9 L425.0,286.2"/>
<path d="M392.5,317.5 L395.2,317.7 L397.3,319.8 L400.0,320.0 L402.7,319.2 L405.0,317.5"/>
<path d="M330.6,140.0 L331.7,142.3 L331.9,144.9 L332.8,147.3 L334.8,148.9 L336.8,150.5 L338.6,152.4 L342.2,150.2 L344.5,148.8 L347.2,149.1 L349.5,148.0 L352.1,145.9 L353.9,142.9 L356.0,140.0"/>
<path d="M349.5,148.0 L351.5,149.7 L353.3,151.5 L354.6,153.8 L356.0,157.5 L358.3,158.8 L360.4,160.4 L362.4,161.7 L364.8,161.8 L368.1,161.5 L371.3,160.4 L374.1,162.1 L377.1,163.3 L379.1,165.1 L381.5,166.2 L383.7,168.4 L385.9,170.6 L390.2,171.3 L393.2,171.5 L396.1,170.6 L400.0,169.8"/>
<path d="M360.4,160.4 L357.0,161.5 L353.9,163.3 L351.3,165.1 L348.8,166.9 L346.3,169.2 L343.7,171.3 L341.0,173.8 L337.8,175.7 L335.6,178.5 L332.8,180.8 L330.6,184.4 L327.8,185.9 L325.7,188.3 L323.3,190.2 L321.8,191.7"/>
<path d="M348.8,166.9 L350.5,168.9 L351.7,171.3 L352.2,173.5 L353.1,175.7 L352.0,178.9 L350.9,182.2 L351.5,185.1 L350.9,188.0 L352.5,190.1 L354.6,191.7 L356.6,193.3 L358.2,195.3 L359.4,198.4 L361.1,201.1 L362.2,204.5 L362.6,208.0"/>
<path d="M332.8,147.3 L330.0,148.8 L327.7,150.9 L325.1,151.1 L322.8,152.3 L320.4,153.1 L317.5,154.1 L314.6,154.6 L313.8,158.9 L311.5,161.7 L308.7,164.0 L306.6,166.9 L303.4,168.7 L300.0,169.8"/>
<path d="M306.6,166.9 L307.3,170.3 L308.7,173.5 L310.5,176.4 L312.4,179.3 L313.6,182.6 L316.0,185.1 L317.3,187.5 L317.5,190.2 L319.6,191.1 L321.8,191.7 L320.5,194.8 L320.4,198.2 L319.1,201.0 L318.9,204.0 L317.0,206.4 L314.6,208.0"/>
<path d="M397.5,157.5 L397.4,160.4 L396.8,163.3 L399.0,166.9 L400.0,166.2"/>
<path d="M330.6,140.0 L330.0,137.1 L329.8,134.2 L330.8,131.3 L331.3,128.4"/>
</g>
<use href="#spain" fill="none" stroke="#12281c" stroke-width="0.95" stroke-linejoin="round"/>
<defs>
<linearGradient id="gPalma" x1="0" y1="0" x2="0" y2="1"><stop offset="0" stop-color="#ffd23a"/><stop offset="0.3" stop-color="#ffb02e"/><stop offset="0.55" stop-color="#ff8a33"/><stop offset="1" stop-color="#ff6633"/></linearGradient>
<linearGradient id="gGomera" x1="0" y1="0" x2="1" y2="1"><stop offset="0" stop-color="#ffa733"/><stop offset="0.5" stop-color="#ff8833"/><stop offset="1" stop-color="#ff6030"/></linearGradient>
<linearGradient id="gTfe" x1="0.2" y1="0" x2="0.45" y2="1"><stop offset="0.27" stop-color="#fff08a"/><stop offset="0.38" stop-color="#ffd448"/><stop offset="0.55" stop-color="#ffa033"/><stop offset="0.75" stop-color="#ff7033"/><stop offset="1" stop-color="#ff6030"/></linearGradient>
<linearGradient id="gAnaga" x1="1" y1="0" x2="0" y2="1"><stop offset="0" stop-color="#2f9262"/><stop offset="0.45" stop-color="#33c46c"/><stop offset="0.7" stop-color="#9bee0c"/><stop offset="1" stop-color="#ffe36a" stop-opacity="0"/></linearGradient>
<linearGradient id="gGC" x1="0" y1="0" x2="0" y2="1"><stop offset="0" stop-color="#1f8a58"/><stop offset="0.2" stop-color="#2f9b65"/><stop offset="0.31" stop-color="#7fe040"/><stop offset="0.39" stop-color="#e4f58c"/><stop offset="0.46" stop-color="#ffd860"/><stop offset="0.57" stop-color="#ffa033"/><stop offset="0.74" stop-color="#ff7433"/><stop offset="1" stop-color="#ff6030"/></linearGradient>
<linearGradient id="gFue" x1="0" y1="0" x2="1" y2="0.25"><stop offset="0" stop-color="#ffe066"/><stop offset="0.5" stop-color="#ffcf38"/><stop offset="0.8" stop-color="#ffb430"/><stop offset="1" stop-color="#ff9c33"/></linearGradient>
<linearGradient id="gLanz" x1="0" y1="1" x2="1" y2="0"><stop offset="0" stop-color="#fffbc8"/><stop offset="0.25" stop-color="#d8ffc0"/><stop offset="0.45" stop-color="#8ee860"/><stop offset="0.65" stop-color="#b4ee60"/><stop offset="0.85" stop-color="#fff59a"/><stop offset="1" stop-color="#ffe880"/></linearGradient>
<linearGradient id="gMen" x1="0" y1="0" x2="1" y2="0.3"><stop offset="0" stop-color="#fff7b0"/><stop offset="0.3" stop-color="#ffd64a"/><stop offset="0.7" stop-color="#ffc030"/><stop offset="1" stop-color="#ffeea0"/></linearGradient>
<linearGradient id="gIbz" x1="1" y1="0" x2="0" y2="1"><stop offset="0" stop-color="#2f8a60"/><stop offset="0.4" stop-color="#2f9b65"/><stop offset="0.6" stop-color="#44d060"/><stop offset="0.78" stop-color="#b8f070"/><stop offset="1" stop-color="#f4ffc8"/></linearGradient>
<clipPath id="cpMal"><path id="mallorca" d="M561.8,236.6 L567,232.7 573.5,228 580,222.2 586.6,219 590,217 592.8,215.8 592,218.5 590.8,221 591.8,225.5 595.7,226.8 599,224.8 603,225.5 604.4,228.7 602.2,232.7 600.3,236 598.3,240.5 595,244.4 592.5,248.3 589.8,249.8 587.2,247 584,245.7 579.4,245 576.8,241.8 577.4,238.5 574.2,237.2 569.6,241.8 566.3,239.8 Z"/></clipPath>
<clipPath id="cpTfe"><path id="tenerife" d="M53.6,432 L58.4,430 65.4,429.2 71,427.8 75.8,423 80.7,421.6 86.3,421.4 87.9,423 83.5,425.7 80,428.5 77.2,433.4 75.8,439.7 72.3,445.2 68.2,448 63.3,448.9 60.5,443 57.7,437.6 55,434 Z"/></clipPath>
</defs>
<g stroke="#1f3f2a" stroke-width="0.7" stroke-linejoin="round">
<!-- Mallorca -->
<g clip-path="url(#cpMal)" stroke="none">
<rect x="555" y="210" width="55" height="45" fill="#2f9262"/>
<path d="M561,238 L568,231 574,229 571,236 567,241 Z" fill="#17774a"/>
<path d="M577,226 583,220 592,216 606,222 606,240 596,250 588,250 582,246 580,238 Z" fill="#33c46c"/>
<path d="M580,249 L578,244 581,240 590,242 597,241 596,247 591,252 Z" fill="#2f9b65"/>
<ellipse cx="587.3" cy="233.6" rx="8" ry="8.2" fill="#7fe83c"/>
<ellipse cx="586.3" cy="233.4" rx="4" ry="4.4" fill="#a8f58a"/>
<path d="M596,223 606,223 606,232 600,237 596.5,232 Z" fill="#c9f7b6"/>
<path d="M589,216 594,214 593,219 590.5,219.5 Z" fill="#17603a"/>
</g>
<use href="#mallorca" fill="none"/>
<path d="M585.5,254.5 l1.2,-0.8 0.6,1.6 -1,1.4 z" fill="#1f3f2a" stroke-width="0.4"/>
<!-- Menorca -->
<path d="M614.7,211.8 L618,209.8 623,209 626,208.2 628.4,210.4 632.3,214.4 633.8,219.6 631,219.9 627,216.6 622.5,214.6 618,215.9 615.3,214.4 Z" fill="url(#gMen)"/>
<!-- Ibiza -->
<path d="M522.6,266.7 L526,264 530.5,261 534,260 537.5,261.4 538.8,264 535.8,266.7 533,269 530.5,271 527,272 523.5,272.8 522.6,270.2 Z" fill="url(#gIbz)"/>
<!-- Formentera -->
<path d="M530.7,272.8 L531.4,278 M529.6,282.5 L532.2,279 537.5,281.6 534,282.6 Z" fill="#c8f4e8" stroke-width="0.8"/>
<!-- La Palma -->
<path d="M9,411.1 L11.8,407.7 15.3,407 18.8,408.3 20.9,412.5 20.2,418 18,423 15.3,426.6 13.2,422.3 11.1,416.7 Z" fill="url(#gPalma)"/>
<!-- La Gomera -->
<path d="M35.8,441 L38.5,438.3 42.5,438 45.8,440.4 46.6,443.6 44.5,446.4 40.8,447.2 37.2,445.6 Z" fill="url(#gGomera)"/>
<!-- Tenerife -->
<g clip-path="url(#cpTfe)" stroke="none">
<rect x="50" y="418" width="40" height="33" fill="url(#gTfe)"/>
<path d="M70,429.5 L75.8,422 80.7,420.6 89,420.5 89,424 83.5,426.5 80,429.5 77.5,433 73.5,431 Z" fill="url(#gAnaga)"/>
</g>
<use href="#tenerife" fill="none"/>
<!-- Gran Canaria -->
<path d="M99.6,450 L100.5,446 103,443 105.5,442.6 106,440.8 108.5,442.2 111,441.2 113.5,442.6 116,441.8 116.6,439.6 117.6,442.4 117.2,445 118.6,449 118.4,454 116.6,458 113.5,460.6 109.5,461.6 105.5,460.8 102.2,458.4 100.2,454.6 Z" fill="url(#gGC)"/>
<!-- El Hierro -->
<path d="M1.4,459 L5.6,459 8.3,455.7 11.8,455 12.8,457 10.4,461.2 9,464.7 6.3,463.3 2.8,462 Z" fill="#f0644a"/>
<!-- Fuerteventura -->
<path d="M175.2,415.9 L179.6,413.3 183,414 183.2,420.2 182.2,427.2 179.6,434 176,438.5 170,441 164.8,444.6 159.6,446.7 155.2,445.4 156,443.7 162.2,442 165.7,438.5 167.4,432.4 170,426.3 172.6,420.2 Z" fill="url(#gFue)"/>
<!-- Lanzarote -->
<path d="M180.4,408 L182.2,402 186.5,397.6 192.6,395 196,391.5 198.7,389.8 199.8,394 197.8,400.2 192.6,404.6 186.5,406.3 184,409 Z" fill="url(#gLanz)"/>
<path d="M194.8,388 l1.5,-0.4 0.6,2.2 -0.6,2 -1.3,-1.2 z" fill="#1f4a3a" stroke-width="0.4"/>
<circle cx="195.5" cy="382.4" r="0.9" fill="#2a6a6a" stroke="none"/>
<!-- Ceuta, Melilla, Alboran -->
<path d="M274.3,414.2 L278.2,414.2 276.6,417.6 Z" fill="#17603a" stroke-width="0.5"/>
<rect x="368" y="443.4" width="1.8" height="3.2" fill="#2a6a50" stroke-width="0.5"/>
<circle cx="366" cy="414" r="0.5" fill="#2a4a4a" stroke="none"/>
</g>

<!-- legend bar -->
<g id="legend" stroke="#4a4a38" stroke-width="0.9">
<rect x="640.2" y="113.30" width="15.8" height="26.02" fill="#0b6e3e"/>
<rect x="640.2" y="139.32" width="15.8" height="26.02" fill="#319767"/>
<rect x="640.2" y="165.34" width="15.8" height="26.02" fill="#33c46c"/>
<rect x="640.2" y="191.36" width="15.8" height="26.02" fill="#9bee0c"/>
<rect x="640.2" y="217.38" width="15.8" height="26.02" fill="#99f7a5"/>
<rect x="640.2" y="243.40" width="15.8" height="26.02" fill="#d2ffd0"/>
<rect x="640.2" y="269.42" width="15.8" height="26.02" fill="#ffff9c"/>
<rect x="640.2" y="295.44" width="15.8" height="26.02" fill="#ffc61a"/>
<rect x="640.2" y="321.46" width="15.8" height="26.02" fill="#ff9933"/>
<rect x="640.2" y="347.48" width="15.8" height="26.02" fill="#ff6633"/>
</g>
</svg>
<div id="title">Porcentaje de la Precipitación Acum. del 01/04/2018 a  15/04/2018  (normal 1981-2010)</div>
<div id="pct">(%)</div>
<div class="lb" style="top:132px">300</div>
<div class="lb" style="top:158px">200</div>
<div class="lb" style="top:184px">175</div>
<div class="lb" style="top:210px">150</div>
<div class="lb" style="top:236px">125</div>
<div class="lb" style="top:262px">100</div>
<div class="lb" style="top:288px">75</div>
<div class="lb" style="top:314px">50</div>
<div class="lb" style="top:340px">25</div>
<div class="lb" style="top:366px">0</div>
<div id="n536">536</div>
</body></html>
